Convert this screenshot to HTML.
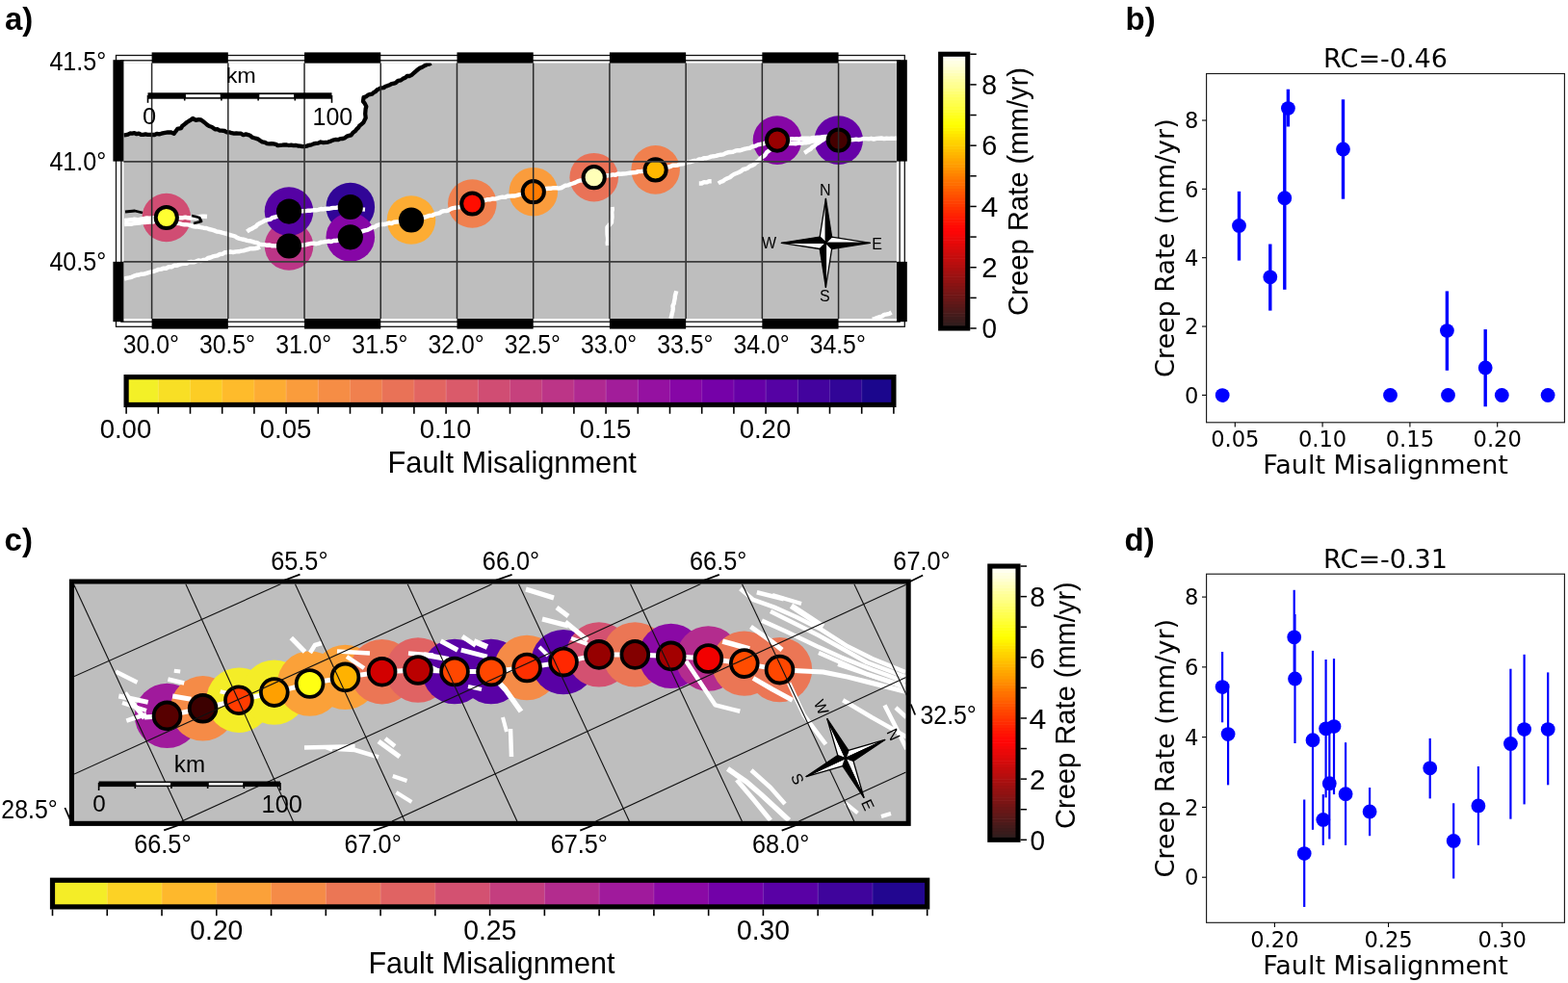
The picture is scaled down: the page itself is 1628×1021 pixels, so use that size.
<!DOCTYPE html>
<html><head><meta charset="utf-8"><title>Fault creep figure</title>
<style>html,body{margin:0;padding:0;background:#fff;} svg{display:block;}</style></head>
<body><svg width="1628" height="1021" viewBox="0 0 1628 1021">
<rect width="1628" height="1021" fill="#fff"/>
<text x="5.00" y="30.80" font-family="'Liberation Sans', Arial, sans-serif" font-size="33" font-weight="bold" text-anchor="start" fill="#000" >a)</text>
<text x="1168.60" y="30.90" font-family="'Liberation Sans', Arial, sans-serif" font-size="33" font-weight="bold" text-anchor="start" fill="#000" >b)</text>
<text x="4.60" y="572.10" font-family="'Liberation Sans', Arial, sans-serif" font-size="33" font-weight="bold" text-anchor="start" fill="#000" >c)</text>
<text x="1167.60" y="572.10" font-family="'Liberation Sans', Arial, sans-serif" font-size="33" font-weight="bold" text-anchor="start" fill="#000" >d)</text>
<clipPath id="ca"><rect x="128.4" y="65.5" width="802.5" height="265.5"/></clipPath>
<clipPath id="cc"><rect x="77" y="606.6" width="863.7" height="246.5"/></clipPath>
<rect x="128.40" y="65.50" width="802.50" height="265.50" fill="#bebebe" />
<polygon points="128.4,65.5 447.6,65.5 445.6,66.6 443.3,67.0 440.8,68.2 438.4,69.7 435.8,70.8 433.5,72.5 431.4,74.3 429.3,76.2 427.4,77.8 425.3,79.0 422.6,79.0 420.8,80.8 418.5,81.6 416.2,83.4 413.2,83.9 411.0,85.9 408.9,86.7 406.5,87.1 404.6,88.3 402.4,89.1 400.2,89.7 398.3,91.2 395.9,91.3 393.8,92.3 391.6,93.2 390.0,95.0 387.9,96.1 386.2,97.7 384.0,98.0 381.9,98.8 380.0,100.4 377.6,101.0 377.0,105.3 378.7,107.4 380.3,110.6 379.6,113.1 379.4,115.6 379.2,118.2 379.7,122.5 378.5,124.8 377.4,127.2 375.4,129.0 373.4,130.4 372.2,132.5 370.4,134.0 369.0,136.0 366.5,137.8 364.7,140.3 362.4,140.9 360.1,141.6 358.2,143.2 356.0,144.0 353.3,144.1 350.9,145.2 348.1,145.0 345.6,145.6 343.1,146.7 340.7,147.6 338.1,147.9 335.6,148.2 332.9,147.5 330.5,148.6 328.0,148.9 325.6,149.4 323.4,150.4 320.9,150.8 318.6,151.6 316.2,152.1 313.9,152.2 311.6,151.7 309.3,151.5 307.0,150.9 304.6,151.1 302.4,150.6 300.0,151.0 297.7,150.5 295.4,150.3 293.1,150.7 290.8,150.9 288.5,151.1 286.4,149.8 284.1,149.4 281.9,149.1 279.6,149.3 277.3,149.1 275.0,147.8 272.3,147.4 270.0,146.0 268.2,144.6 266.1,143.9 263.9,143.3 261.8,142.6 260.1,141.1 257.7,140.1 255.3,139.4 252.6,140.2 250.3,138.7 247.8,138.6 245.3,138.5 242.9,138.6 240.5,138.2 238.1,137.3 235.6,137.4 233.1,136.0 230.2,135.6 227.9,135.6 225.9,134.2 223.6,134.3 221.6,133.1 219.6,131.7 217.2,131.0 215.1,129.6 212.1,127.0 208.7,124.5 206.1,124.2 203.5,124.9 200.1,123.0 197.5,124.9 194.1,127.0 191.5,129.2 189.3,130.7 188.1,133.1 184.2,133.9 182.4,136.4 180.7,138.9 177.7,137.5 174.3,137.4 170.0,138.2 167.6,138.7 165.3,139.4 162.8,138.9 160.5,140.0 158.1,140.0 155.7,139.9 153.4,139.9 151.1,139.4 148.8,139.9 146.5,139.9 144.2,138.6 141.9,139.2 139.6,138.1 137.3,138.6 135.0,138.5 132.9,139.7 130.6,140.1 128.4,140.5 128.4,140.5" fill="#fff"/>
<g clip-path="url(#ca)">
<polyline points="447.6,65.5 445.6,66.6 443.3,67.0 440.8,68.2 438.4,69.7 435.8,70.8 433.5,72.5 431.4,74.3 429.3,76.2 427.4,77.8 425.3,79.0 422.6,79.0 420.8,80.8 418.5,81.6 416.2,83.4 413.2,83.9 411.0,85.9 408.9,86.7 406.5,87.1 404.6,88.3 402.4,89.1 400.2,89.7 398.3,91.2 395.9,91.3 393.8,92.3 391.6,93.2 390.0,95.0 387.9,96.1 386.2,97.7 384.0,98.0 381.9,98.8 380.0,100.4 377.6,101.0 377.0,105.3 378.7,107.4 380.3,110.6 379.6,113.1 379.4,115.6 379.2,118.2 379.7,122.5 378.5,124.8 377.4,127.2 375.4,129.0 373.4,130.4 372.2,132.5 370.4,134.0 369.0,136.0 366.5,137.8 364.7,140.3 362.4,140.9 360.1,141.6 358.2,143.2 356.0,144.0 353.3,144.1 350.9,145.2 348.1,145.0 345.6,145.6 343.1,146.7 340.7,147.6 338.1,147.9 335.6,148.2 332.9,147.5 330.5,148.6 328.0,148.9 325.6,149.4 323.4,150.4 320.9,150.8 318.6,151.6 316.2,152.1 313.9,152.2 311.6,151.7 309.3,151.5 307.0,150.9 304.6,151.1 302.4,150.6 300.0,151.0 297.7,150.5 295.4,150.3 293.1,150.7 290.8,150.9 288.5,151.1 286.4,149.8 284.1,149.4 281.9,149.1 279.6,149.3 277.3,149.1 275.0,147.8 272.3,147.4 270.0,146.0 268.2,144.6 266.1,143.9 263.9,143.3 261.8,142.6 260.1,141.1 257.7,140.1 255.3,139.4 252.6,140.2 250.3,138.7 247.8,138.6 245.3,138.5 242.9,138.6 240.5,138.2 238.1,137.3 235.6,137.4 233.1,136.0 230.2,135.6 227.9,135.6 225.9,134.2 223.6,134.3 221.6,133.1 219.6,131.7 217.2,131.0 215.1,129.6 212.1,127.0 208.7,124.5 206.1,124.2 203.5,124.9 200.1,123.0 197.5,124.9 194.1,127.0 191.5,129.2 189.3,130.7 188.1,133.1 184.2,133.9 182.4,136.4 180.7,138.9 177.7,137.5 174.3,137.4 170.0,138.2 167.6,138.7 165.3,139.4 162.8,138.9 160.5,140.0 158.1,140.0 155.7,139.9 153.4,139.9 151.1,139.4 148.8,139.9 146.5,139.9 144.2,138.6 141.9,139.2 139.6,138.1 137.3,138.6 135.0,138.5 132.9,139.7 130.6,140.1 128.4,140.5" fill="none" stroke="#000" stroke-width="4.3" stroke-linejoin="round" stroke-linecap="butt" />
</g>
<g clip-path="url(#ca)">
<circle cx="172.80" cy="226.00" r="25.30" fill="#d04d73"/>
<circle cx="300.00" cy="255.50" r="25.30" fill="#bc3587"/>
<circle cx="300.00" cy="219.60" r="25.30" fill="#5502a4"/>
<circle cx="363.80" cy="215.00" r="25.30" fill="#310597"/>
<circle cx="363.80" cy="246.30" r="25.30" fill="#8606a6"/>
<circle cx="427.00" cy="228.50" r="25.30" fill="#fdac33"/>
<circle cx="490.30" cy="211.50" r="25.30" fill="#f0804e"/>
<circle cx="553.80" cy="199.20" r="25.30" fill="#fa9c3c"/>
<circle cx="616.70" cy="184.20" r="25.30" fill="#e97257"/>
<circle cx="680.60" cy="176.40" r="25.30" fill="#f0804e"/>
<circle cx="807.00" cy="145.60" r="25.30" fill="#8606a6"/>
<circle cx="870.70" cy="145.60" r="25.30" fill="#6600a7"/>
<polyline points="129.0,229.0 131.6,228.8 134.2,228.4 136.9,228.3 139.5,227.7 142.2,228.1 144.8,227.9 147.4,227.4 150.0,227.0 152.5,226.5 155.0,226.8 157.5,226.5 160.0,226.3 162.5,227.0 165.0,226.9 167.5,225.8 170.0,226.6 172.5,226.2 175.0,226.0 177.5,225.9 180.0,225.8 182.5,226.2 185.0,226.0 187.5,226.2 190.0,226.2 192.5,225.6 195.0,226.3 197.5,226.5 200.0,226.0 202.5,226.3 205.0,225.8 207.5,225.0 210.0,224.8 212.5,224.8 215.0,225.0" fill="none" stroke="#fff" stroke-width="4.4" stroke-linejoin="round" stroke-linecap="butt" />
<polyline points="129.0,233.0 131.6,232.7 134.3,232.6 136.9,232.7 139.5,232.0 142.1,231.8 144.8,231.6 147.3,230.9 150.0,231.0 152.8,230.8 155.5,230.6 158.3,230.6 161.0,229.6 163.7,229.5 166.5,229.1 169.3,229.6 172.0,229.0 174.8,229.8 177.7,229.7 180.3,231.3 183.1,231.9 186.0,232.0 188.8,232.8 191.6,233.3 194.5,233.4 197.3,233.9 200.0,235.0 202.8,235.5 205.8,235.5 208.6,236.2 211.4,236.7 214.3,237.0 217.0,238.0 219.7,238.7 222.4,239.4 225.0,240.5 227.9,240.9 230.5,241.7 233.3,242.3 236.0,243.0 238.5,244.0 241.2,244.7 243.8,245.3 246.1,246.9 248.7,247.8 251.3,248.5 254.0,249.0 256.5,249.9 259.2,250.2 261.8,250.9 264.3,251.6 267.0,252.1 269.4,253.6 272.0,254.0 274.7,254.1 277.3,254.8 280.0,254.5 282.6,255.3 285.3,255.4 288.0,255.2 291.0,254.7 294.0,255.0 297.0,255.9 300.0,255.5 302.6,255.3 305.2,255.6 307.7,254.7 310.2,254.2 312.9,254.6 315.5,254.5 318.0,254.0 320.6,253.4 323.1,252.9 325.7,252.8 328.4,253.2 331.0,252.6 333.4,251.6 336.0,251.4 338.6,250.9 341.2,250.5 343.9,251.0 346.4,250.0 349.0,250.0 351.5,249.4 354.0,248.7 356.4,247.8 359.1,247.8 361.4,246.5 364.0,246.3 366.6,245.3 368.8,243.6 371.5,242.7 373.9,241.3 376.4,240.2 379.0,239.3 381.7,238.8 384.1,237.6 386.4,236.1 389.2,235.8 391.4,234.1 394.0,233.4 396.5,232.9 399.1,233.0 401.5,232.4 403.9,231.5 406.6,232.1 409.0,230.8 411.5,230.5 414.0,230.4 416.6,230.3 419.2,229.5 421.8,229.0 424.3,228.4 427.0,228.5 429.8,227.5 432.8,227.4 435.6,226.4 438.6,226.2 441.5,225.5 443.9,224.6 446.3,223.9 448.9,223.7 451.2,222.5 453.6,221.8 456.2,221.4 458.4,219.9 460.8,219.1 463.4,219.1 465.8,218.3 468.1,216.9 470.5,216.1 473.0,215.7 475.5,215.4 478.0,215.0 480.2,213.6 482.8,213.8 485.2,213.1 487.6,212.2 490.0,211.5 492.8,210.7 495.5,209.6 498.3,208.8 501.3,209.0 504.0,207.8 506.5,207.1 509.1,207.2 511.6,206.4 514.2,206.6 516.7,205.9 519.2,205.2 521.7,204.7 524.3,204.9 526.7,203.8 529.3,203.6 531.9,203.5 534.5,203.5 537.0,202.8 539.4,202.1 542.0,201.9 545.1,201.7 547.9,200.2 550.9,199.4 554.0,199.2 556.5,198.3 559.2,197.9 561.7,196.8 564.3,196.3 567.0,196.0 569.7,195.7 572.3,195.7 575.0,195.1 577.7,195.2 580.4,195.6 583.0,195.0 587.0,192.7 589.7,192.4 592.2,191.3 594.8,190.5 597.3,189.6 599.7,188.4 602.3,187.5 605.0,187.2 607.9,185.9 611.1,186.1 614.1,185.2 617.0,184.2 619.9,184.3 622.5,182.9 625.4,183.2 628.2,182.7 631.0,182.3 633.7,182.2 636.3,181.4 639.0,181.8 641.5,180.5 644.2,180.7 646.9,180.5 649.6,180.4 652.2,179.9 654.8,179.5 657.5,179.3 660.1,179.1 662.7,178.1 665.4,178.1 668.0,177.6 670.6,177.8 673.2,177.5 675.8,176.8 678.4,177.0 681.0,176.4 683.6,176.2 686.0,175.3 688.5,174.8 691.0,173.9 693.5,173.5 696.0,173.0 698.4,171.8 701.0,171.8 703.6,171.6 706.0,170.5 708.6,170.3 711.1,169.6 713.5,168.6 716.1,168.4 718.5,167.7 721.0,166.9 723.6,166.8 725.9,165.4 728.6,165.5 730.9,164.1 733.5,164.2 736.0,163.5 738.4,162.6 741.0,162.3 743.5,161.9 746.0,161.1 748.5,160.7 751.1,160.4 753.4,159.1 755.9,158.3 758.5,158.0 761.0,157.8 763.4,156.7 765.9,156.1 768.6,156.3 771.0,155.4 773.5,154.6 776.0,154.1 778.8,153.7 781.4,152.2 784.2,151.7 786.8,150.4 789.5,149.8 792.4,149.4 795.0,148.2 798.1,148.0 801.1,147.3 804.0,146.1 807.0,145.6 809.5,145.5 812.0,144.9 814.5,144.5 817.0,144.7 819.5,144.8 822.0,144.2 824.6,144.5 827.1,144.3 829.7,144.5 832.3,143.7 834.8,143.6 837.4,143.8 840.0,143.8 842.8,143.3 845.6,142.9 848.5,142.8 851.3,142.7 854.2,142.3 857.0,142.0 859.9,142.5 862.5,143.8 865.3,144.7 868.2,144.8 871.0,145.6 873.5,145.0 876.1,144.9 878.7,145.7 881.2,144.7 883.8,145.3 886.3,145.1 888.9,144.7 891.5,145.1 894.0,144.7 896.6,144.1 899.3,144.1 901.9,144.4 904.6,143.8 907.2,144.6 909.8,143.9 912.5,143.7 915.1,143.5 917.8,144.1 920.4,143.8 923.1,143.9 925.7,143.8 928.4,143.9 931.0,143.5" fill="none" stroke="#fff" stroke-width="4.4" stroke-linejoin="round" stroke-linecap="butt" />
<polyline points="129.0,289.6 131.5,288.9 134.1,288.4 136.7,287.8 139.1,286.6 141.6,285.8 144.2,285.5 146.7,284.7 149.4,284.6 151.9,283.8 154.4,283.1 156.9,282.4 159.5,281.8 162.0,281.0 164.6,279.9 167.3,279.6 169.9,278.6 172.8,278.7 175.2,277.1 178.1,277.3 180.6,275.8 183.4,275.8 186.0,274.9 188.5,274.2 191.0,273.8 193.6,273.8 195.9,272.4 198.4,272.0 201.1,272.4 203.5,271.5 205.9,270.5 208.6,271.0 211.0,270.0 213.6,269.7 215.9,268.0 218.5,267.5 220.9,266.4 223.4,265.8 226.0,265.3 228.4,264.0 231.1,263.8 233.3,262.3 236.0,262.0 239.0,261.5 242.0,262.0 245.0,261.4 248.0,261.3 250.4,260.7 252.9,260.3 255.3,259.6 257.8,259.0 260.1,258.1 262.7,258.3 265.2,258.0 267.7,257.5 270.0,256.4" fill="none" stroke="#fff" stroke-width="4.4" stroke-linejoin="round" stroke-linecap="butt" />
<polyline points="256.4,240.5 258.5,238.9 261.1,237.8 263.4,236.4 265.7,235.2 267.6,233.1 270.0,231.8 272.4,230.6 274.9,229.2 277.6,228.3 280.5,227.8 282.9,226.2 285.7,225.5 288.4,224.5 290.6,223.2 293.0,222.3 295.3,221.5 297.8,220.9 300.0,219.6 302.5,219.6 305.0,218.8 307.5,219.0 310.0,218.7 312.5,219.4 315.0,219.2 317.5,219.1 320.0,218.6 322.7,218.7 325.3,218.3 328.0,218.3 330.6,217.9 333.2,217.0 335.9,217.4 338.5,216.7 341.1,216.8 343.7,216.3 346.4,215.9 349.0,215.7 351.5,215.4 354.0,215.4 356.5,215.1 359.0,214.8 361.5,215.5 364.0,215.0 366.4,215.8 368.9,216.4 371.5,216.5 374.0,216.8 376.5,217.4 379.0,217.6" fill="none" stroke="#fff" stroke-width="4.4" stroke-linejoin="round" stroke-linecap="butt" />
<polyline points="806.0,150.0 804.3,152.1 801.9,153.4 800.0,155.3 798.0,156.9 796.0,158.3 794.6,160.6 792.8,162.3 790.6,163.6 788.8,165.3 787.2,167.3 785.1,168.7 783.4,170.5 781.1,171.8 778.6,172.6 776.5,174.4 774.1,175.5 771.5,176.0 769.4,177.8 767.1,179.0 764.6,180.0 762.1,181.0 759.8,182.5 757.7,184.3 755.2,185.2 752.8,186.4 750.7,188.2 748.1,189.0 745.8,190.5" fill="none" stroke="#fff" stroke-width="4.4" stroke-linejoin="round" stroke-linecap="butt" />
<polyline points="725.8,190.5 728.5,190.5 730.9,189.1 733.6,189.4 736.1,188.3 738.7,188.2" fill="none" stroke="#fff" stroke-width="4.4" stroke-linejoin="round" stroke-linecap="butt" />
<polyline points="860.0,141.1 858.0,142.7 855.9,144.1 853.8,145.6 851.7,147.0 849.7,148.6 847.4,149.8 845.6,151.6 843.3,152.8 841.6,154.8 839.4,156.0 837.3,157.5 835.1,158.8" fill="none" stroke="#fff" stroke-width="4.4" stroke-linejoin="round" stroke-linecap="butt" />
<polyline points="818.0,149.0 820.8,148.9 823.7,149.1 826.5,149.2 829.3,148.3 832.2,148.7 835.0,148.3 837.6,148.2 840.2,147.8 842.7,146.8 845.3,146.3 848.0,146.5 850.4,145.7 852.9,145.4 855.1,144.1 857.6,143.7 860.0,143.0" fill="none" stroke="#fff" stroke-width="4.4" stroke-linejoin="round" stroke-linecap="butt" />
<polyline points="635.5,215.0 635.8,217.7 635.2,220.3 635.4,223.0 635.5,225.7 635.1,228.3 635.0,231.0 632.8,233.5 630.5,236.0 630.5,238.5 630.5,241.0 630.6,243.8 631.0,246.6 631.1,249.4 630.7,252.2 631.0,255.0" fill="none" stroke="#fff" stroke-width="4.4" stroke-linejoin="round" stroke-linecap="butt" />
<polyline points="702.3,302.2 701.6,304.8 700.9,307.4 700.7,310.1 700.1,312.7 699.7,315.3 698.5,317.8 698.8,320.6 698.4,323.2 697.7,325.8 697.2,328.4 696.4,331.0" fill="none" stroke="#fff" stroke-width="4.4" stroke-linejoin="round" stroke-linecap="butt" />
<polyline points="905.7,331.6 908.3,331.1 910.7,330.0 913.3,329.2 915.8,328.5 918.0,326.9 920.7,326.4 923.3,325.8 925.6,324.5" fill="none" stroke="#fff" stroke-width="4.4" stroke-linejoin="round" stroke-linecap="butt" />
<polyline points="130.0,220.0 140.0,219.0 148.0,221.0" fill="none" stroke="#000" stroke-width="2.8" stroke-linejoin="round" stroke-linecap="butt" />
<polyline points="199.0,224.0 207.0,226.0 209.0,230.0 201.0,232.0" fill="none" stroke="#000" stroke-width="2.8" stroke-linejoin="round" stroke-linecap="butt" />
<circle cx="172.80" cy="226.00" r="11.10" fill="#ffff32" stroke="#000" stroke-width="4"/>
<circle cx="300.00" cy="255.50" r="13.10" fill="#000"/>
<circle cx="300.00" cy="219.60" r="13.10" fill="#000"/>
<circle cx="363.80" cy="215.00" r="13.10" fill="#000"/>
<circle cx="363.80" cy="246.30" r="13.10" fill="#000"/>
<circle cx="427.00" cy="228.50" r="13.10" fill="#000"/>
<circle cx="490.30" cy="211.50" r="11.10" fill="#ff0d00" stroke="#000" stroke-width="4"/>
<circle cx="553.80" cy="199.20" r="11.10" fill="#ff7b00" stroke="#000" stroke-width="4"/>
<circle cx="616.70" cy="184.20" r="11.10" fill="#ffffb8" stroke="#000" stroke-width="4"/>
<circle cx="680.60" cy="176.40" r="11.10" fill="#ffb700" stroke="#000" stroke-width="4"/>
<circle cx="807.00" cy="145.60" r="11.10" fill="#980000" stroke="#000" stroke-width="4"/>
<circle cx="870.70" cy="145.60" r="11.10" fill="#440000" stroke="#000" stroke-width="4"/>
</g>
<line x1="157.60" y1="65.50" x2="157.60" y2="331.00" stroke="#2a2a2a" stroke-width="1.5" />
<line x1="236.82" y1="65.50" x2="236.82" y2="331.00" stroke="#2a2a2a" stroke-width="1.5" />
<line x1="316.04" y1="65.50" x2="316.04" y2="331.00" stroke="#2a2a2a" stroke-width="1.5" />
<line x1="395.26" y1="65.50" x2="395.26" y2="331.00" stroke="#2a2a2a" stroke-width="1.5" />
<line x1="474.48" y1="65.50" x2="474.48" y2="331.00" stroke="#2a2a2a" stroke-width="1.5" />
<line x1="553.70" y1="65.50" x2="553.70" y2="331.00" stroke="#2a2a2a" stroke-width="1.5" />
<line x1="632.92" y1="65.50" x2="632.92" y2="331.00" stroke="#2a2a2a" stroke-width="1.5" />
<line x1="712.14" y1="65.50" x2="712.14" y2="331.00" stroke="#2a2a2a" stroke-width="1.5" />
<line x1="791.36" y1="65.50" x2="791.36" y2="331.00" stroke="#2a2a2a" stroke-width="1.5" />
<line x1="870.58" y1="65.50" x2="870.58" y2="331.00" stroke="#2a2a2a" stroke-width="1.5" />
<line x1="128.40" y1="167.80" x2="930.90" y2="167.80" stroke="#3c3c3c" stroke-width="1.7" />
<line x1="128.40" y1="271.90" x2="930.90" y2="271.90" stroke="#3c3c3c" stroke-width="1.7" />
<rect x="120.50" y="57.50" width="818.80" height="281.80" fill="none" stroke="#111" stroke-width="1.3" />
<rect x="125.90" y="62.80" width="808.20" height="271.40" fill="none" stroke="#111" stroke-width="1.3" />
<rect x="157.60" y="54.40" width="79.22" height="11.20" fill="#000" />
<rect x="157.60" y="331.00" width="79.22" height="10.60" fill="#000" />
<rect x="316.04" y="54.40" width="79.22" height="11.20" fill="#000" />
<rect x="316.04" y="331.00" width="79.22" height="10.60" fill="#000" />
<rect x="474.48" y="54.40" width="79.22" height="11.20" fill="#000" />
<rect x="474.48" y="331.00" width="79.22" height="10.60" fill="#000" />
<rect x="632.92" y="54.40" width="79.22" height="11.20" fill="#000" />
<rect x="632.92" y="331.00" width="79.22" height="10.60" fill="#000" />
<rect x="791.36" y="54.40" width="79.22" height="11.20" fill="#000" />
<rect x="791.36" y="331.00" width="79.22" height="10.60" fill="#000" />
<rect x="117.40" y="62.20" width="11.00" height="105.40" fill="#000" />
<rect x="931.00" y="62.20" width="10.80" height="105.40" fill="#000" />
<rect x="117.40" y="271.80" width="11.00" height="62.40" fill="#000" />
<rect x="931.00" y="271.80" width="10.80" height="62.40" fill="#000" />
<rect x="153.50" y="96.30" width="191.00" height="6.40" fill="#000" />
<rect x="192.90" y="98.10" width="35.80" height="3.00" fill="#fff" />
<rect x="269.30" y="98.10" width="35.80" height="3.00" fill="#fff" />
<line x1="153.50" y1="99.00" x2="153.50" y2="106.80" stroke="#000" stroke-width="1.6" />
<line x1="191.70" y1="99.00" x2="191.70" y2="104.50" stroke="#000" stroke-width="1.6" />
<line x1="229.90" y1="99.00" x2="229.90" y2="104.50" stroke="#000" stroke-width="1.6" />
<line x1="268.10" y1="99.00" x2="268.10" y2="104.50" stroke="#000" stroke-width="1.6" />
<line x1="306.30" y1="99.00" x2="306.30" y2="104.50" stroke="#000" stroke-width="1.6" />
<line x1="344.50" y1="99.00" x2="344.50" y2="106.80" stroke="#000" stroke-width="1.6" />
<text x="234.68" y="86.40" font-family="'Liberation Sans', Arial, sans-serif" font-size="22.2" font-weight="normal" textLength="31.20" lengthAdjust="spacingAndGlyphs" >km</text>
<text x="147.98" y="129.40" font-family="'Liberation Sans', Arial, sans-serif" font-size="24.8" font-weight="normal" textLength="14.14" lengthAdjust="spacingAndGlyphs" >0</text>
<text x="324.53" y="129.50" font-family="'Liberation Sans', Arial, sans-serif" font-size="25.2" font-weight="normal" textLength="41.63" lengthAdjust="spacingAndGlyphs" >100</text>
<g transform="translate(857.40,252.30) rotate(0.00)"><g transform="rotate(0)"><polygon points="0,-46.00 -6.21,-6.21 0,0" fill="#fff" stroke="#000" stroke-width="1.3" stroke-linejoin="round"/><polygon points="0,-46.00 6.21,-6.21 0,0" fill="#000" stroke="#000" stroke-width="1.3" stroke-linejoin="round"/></g><g transform="rotate(90)"><polygon points="0,-46.00 -6.21,-6.21 0,0" fill="#fff" stroke="#000" stroke-width="1.3" stroke-linejoin="round"/><polygon points="0,-46.00 6.21,-6.21 0,0" fill="#000" stroke="#000" stroke-width="1.3" stroke-linejoin="round"/></g><g transform="rotate(180)"><polygon points="0,-46.00 -6.21,-6.21 0,0" fill="#fff" stroke="#000" stroke-width="1.3" stroke-linejoin="round"/><polygon points="0,-46.00 6.21,-6.21 0,0" fill="#000" stroke="#000" stroke-width="1.3" stroke-linejoin="round"/></g><g transform="rotate(270)"><polygon points="0,-46.00 -6.21,-6.21 0,0" fill="#fff" stroke="#000" stroke-width="1.3" stroke-linejoin="round"/><polygon points="0,-46.00 6.21,-6.21 0,0" fill="#000" stroke="#000" stroke-width="1.3" stroke-linejoin="round"/></g></g>
<text x="0" y="0" font-family="'Liberation Sans', Arial, sans-serif" font-size="16" text-anchor="middle" dominant-baseline="central" transform="translate(856.90,197.60) rotate(0.00)">N</text>
<text x="0" y="0" font-family="'Liberation Sans', Arial, sans-serif" font-size="16" text-anchor="middle" dominant-baseline="central" transform="translate(856.40,307.80) rotate(0.00)">S</text>
<text x="0" y="0" font-family="'Liberation Sans', Arial, sans-serif" font-size="16" text-anchor="middle" dominant-baseline="central" transform="translate(798.60,252.20) rotate(0.00)">W</text>
<text x="0" y="0" font-family="'Liberation Sans', Arial, sans-serif" font-size="16" text-anchor="middle" dominant-baseline="central" transform="translate(910.60,253.00) rotate(0.00)">E</text>
<text x="51.40" y="73.00" font-family="'Liberation Sans', Arial, sans-serif" font-size="27.2" font-weight="normal" textLength="58.94" lengthAdjust="spacingAndGlyphs" >41.5°</text>
<text x="51.40" y="177.10" font-family="'Liberation Sans', Arial, sans-serif" font-size="27.2" font-weight="normal" textLength="58.94" lengthAdjust="spacingAndGlyphs" >41.0°</text>
<text x="51.40" y="281.30" font-family="'Liberation Sans', Arial, sans-serif" font-size="27.2" font-weight="normal" textLength="58.94" lengthAdjust="spacingAndGlyphs" >40.5°</text>
<text x="127.71" y="366.80" font-family="'Liberation Sans', Arial, sans-serif" font-size="27.2" font-weight="normal" textLength="58.11" lengthAdjust="spacingAndGlyphs" >30.0°</text>
<text x="206.93" y="366.80" font-family="'Liberation Sans', Arial, sans-serif" font-size="27.2" font-weight="normal" textLength="58.11" lengthAdjust="spacingAndGlyphs" >30.5°</text>
<text x="286.15" y="366.80" font-family="'Liberation Sans', Arial, sans-serif" font-size="27.2" font-weight="normal" textLength="58.11" lengthAdjust="spacingAndGlyphs" >31.0°</text>
<text x="365.37" y="366.80" font-family="'Liberation Sans', Arial, sans-serif" font-size="27.2" font-weight="normal" textLength="58.11" lengthAdjust="spacingAndGlyphs" >31.5°</text>
<text x="444.59" y="366.80" font-family="'Liberation Sans', Arial, sans-serif" font-size="27.2" font-weight="normal" textLength="58.11" lengthAdjust="spacingAndGlyphs" >32.0°</text>
<text x="523.81" y="366.80" font-family="'Liberation Sans', Arial, sans-serif" font-size="27.2" font-weight="normal" textLength="58.11" lengthAdjust="spacingAndGlyphs" >32.5°</text>
<text x="603.03" y="366.80" font-family="'Liberation Sans', Arial, sans-serif" font-size="27.2" font-weight="normal" textLength="58.11" lengthAdjust="spacingAndGlyphs" >33.0°</text>
<text x="682.25" y="366.80" font-family="'Liberation Sans', Arial, sans-serif" font-size="27.2" font-weight="normal" textLength="58.11" lengthAdjust="spacingAndGlyphs" >33.5°</text>
<text x="761.47" y="366.80" font-family="'Liberation Sans', Arial, sans-serif" font-size="27.2" font-weight="normal" textLength="58.11" lengthAdjust="spacingAndGlyphs" >34.0°</text>
<text x="840.69" y="366.80" font-family="'Liberation Sans', Arial, sans-serif" font-size="27.2" font-weight="normal" textLength="58.11" lengthAdjust="spacingAndGlyphs" >34.5°</text>
<rect x="976.65" y="337.84" width="28.10" height="3.76" fill="#2b1e1e" />
<rect x="976.65" y="334.67" width="28.10" height="3.76" fill="#321d1d" />
<rect x="976.65" y="331.51" width="28.10" height="3.76" fill="#391c1c" />
<rect x="976.65" y="328.34" width="28.10" height="3.76" fill="#3e1b1b" />
<rect x="976.65" y="325.18" width="28.10" height="3.76" fill="#451b1b" />
<rect x="976.65" y="322.02" width="28.10" height="3.76" fill="#4c1a1a" />
<rect x="976.65" y="318.85" width="28.10" height="3.76" fill="#531919" />
<rect x="976.65" y="315.69" width="28.10" height="3.76" fill="#5a1818" />
<rect x="976.65" y="312.52" width="28.10" height="3.76" fill="#611818" />
<rect x="976.65" y="309.36" width="28.10" height="3.76" fill="#681717" />
<rect x="976.65" y="306.20" width="28.10" height="3.76" fill="#6d1616" />
<rect x="976.65" y="303.03" width="28.10" height="3.76" fill="#741515" />
<rect x="976.65" y="299.87" width="28.10" height="3.76" fill="#7b1515" />
<rect x="976.65" y="296.71" width="28.10" height="3.76" fill="#821414" />
<rect x="976.65" y="293.54" width="28.10" height="3.76" fill="#891313" />
<rect x="976.65" y="290.38" width="28.10" height="3.76" fill="#911212" />
<rect x="976.65" y="287.21" width="28.10" height="3.76" fill="#951212" />
<rect x="976.65" y="284.05" width="28.10" height="3.76" fill="#9c1111" />
<rect x="976.65" y="280.89" width="28.10" height="3.76" fill="#a31010" />
<rect x="976.65" y="277.72" width="28.10" height="3.76" fill="#aa0f0f" />
<rect x="976.65" y="274.56" width="28.10" height="3.76" fill="#b20f0f" />
<rect x="976.65" y="271.39" width="28.10" height="3.76" fill="#b90e0e" />
<rect x="976.65" y="268.23" width="28.10" height="3.76" fill="#c00d0d" />
<rect x="976.65" y="265.07" width="28.10" height="3.76" fill="#c40c0c" />
<rect x="976.65" y="261.90" width="28.10" height="3.76" fill="#cb0c0c" />
<rect x="976.65" y="258.74" width="28.10" height="3.76" fill="#d30b0b" />
<rect x="976.65" y="255.57" width="28.10" height="3.76" fill="#da0a0a" />
<rect x="976.65" y="252.41" width="28.10" height="3.76" fill="#e10909" />
<rect x="976.65" y="249.25" width="28.10" height="3.76" fill="#e80909" />
<rect x="976.65" y="246.08" width="28.10" height="3.76" fill="#ec0808" />
<rect x="976.65" y="242.92" width="28.10" height="3.76" fill="#f40707" />
<rect x="976.65" y="239.76" width="28.10" height="3.76" fill="#fb0606" />
<rect x="976.65" y="236.59" width="28.10" height="3.76" fill="#ff0606" />
<rect x="976.65" y="233.43" width="28.10" height="3.76" fill="#ff0a05" />
<rect x="976.65" y="230.26" width="28.10" height="3.76" fill="#ff1104" />
<rect x="976.65" y="227.10" width="28.10" height="3.76" fill="#ff1603" />
<rect x="976.65" y="223.94" width="28.10" height="3.76" fill="#ff1d03" />
<rect x="976.65" y="220.77" width="28.10" height="3.76" fill="#ff2402" />
<rect x="976.65" y="217.61" width="28.10" height="3.76" fill="#ff2b01" />
<rect x="976.65" y="214.44" width="28.10" height="3.76" fill="#ff3200" />
<rect x="976.65" y="211.28" width="28.10" height="3.76" fill="#ff3a00" />
<rect x="976.65" y="208.12" width="28.10" height="3.76" fill="#ff4100" />
<rect x="976.65" y="204.95" width="28.10" height="3.76" fill="#ff4700" />
<rect x="976.65" y="201.79" width="28.10" height="3.76" fill="#ff4f00" />
<rect x="976.65" y="198.62" width="28.10" height="3.76" fill="#ff5600" />
<rect x="976.65" y="195.46" width="28.10" height="3.76" fill="#ff5e00" />
<rect x="976.65" y="192.30" width="28.10" height="3.76" fill="#ff6600" />
<rect x="976.65" y="189.13" width="28.10" height="3.76" fill="#ff6e00" />
<rect x="976.65" y="185.97" width="28.10" height="3.76" fill="#ff7300" />
<rect x="976.65" y="182.81" width="28.10" height="3.76" fill="#ff7b00" />
<rect x="976.65" y="179.64" width="28.10" height="3.76" fill="#ff8300" />
<rect x="976.65" y="176.48" width="28.10" height="3.76" fill="#ff8b00" />
<rect x="976.65" y="173.31" width="28.10" height="3.76" fill="#ff9300" />
<rect x="976.65" y="170.15" width="28.10" height="3.76" fill="#ff9b00" />
<rect x="976.65" y="166.99" width="28.10" height="3.76" fill="#ffa200" />
<rect x="976.65" y="163.82" width="28.10" height="3.76" fill="#ffa800" />
<rect x="976.65" y="160.66" width="28.10" height="3.76" fill="#ffb000" />
<rect x="976.65" y="157.49" width="28.10" height="3.76" fill="#ffb700" />
<rect x="976.65" y="154.33" width="28.10" height="3.76" fill="#ffbf00" />
<rect x="976.65" y="151.17" width="28.10" height="3.76" fill="#ffc700" />
<rect x="976.65" y="148.00" width="28.10" height="3.76" fill="#ffcf00" />
<rect x="976.65" y="144.84" width="28.10" height="3.76" fill="#ffd400" />
<rect x="976.65" y="141.68" width="28.10" height="3.76" fill="#ffdc00" />
<rect x="976.65" y="138.51" width="28.10" height="3.76" fill="#ffe400" />
<rect x="976.65" y="135.35" width="28.10" height="3.76" fill="#ffec00" />
<rect x="976.65" y="132.18" width="28.10" height="3.76" fill="#fff400" />
<rect x="976.65" y="129.02" width="28.10" height="3.76" fill="#fffc00" />
<rect x="976.65" y="125.86" width="28.10" height="3.76" fill="#ffff07" />
<rect x="976.65" y="122.69" width="28.10" height="3.76" fill="#ffff0f" />
<rect x="976.65" y="119.53" width="28.10" height="3.76" fill="#ffff1b" />
<rect x="976.65" y="116.36" width="28.10" height="3.76" fill="#ffff26" />
<rect x="976.65" y="113.20" width="28.10" height="3.76" fill="#ffff32" />
<rect x="976.65" y="110.04" width="28.10" height="3.76" fill="#ffff3e" />
<rect x="976.65" y="106.87" width="28.10" height="3.76" fill="#ffff4a" />
<rect x="976.65" y="103.71" width="28.10" height="3.76" fill="#ffff52" />
<rect x="976.65" y="100.54" width="28.10" height="3.76" fill="#ffff5e" />
<rect x="976.65" y="97.38" width="28.10" height="3.76" fill="#ffff69" />
<rect x="976.65" y="94.22" width="28.10" height="3.76" fill="#ffff75" />
<rect x="976.65" y="91.05" width="28.10" height="3.76" fill="#ffff81" />
<rect x="976.65" y="87.89" width="28.10" height="3.76" fill="#ffff8d" />
<rect x="976.65" y="84.73" width="28.10" height="3.76" fill="#ffff95" />
<rect x="976.65" y="81.56" width="28.10" height="3.76" fill="#ffffa0" />
<rect x="976.65" y="78.40" width="28.10" height="3.76" fill="#ffffac" />
<rect x="976.65" y="75.23" width="28.10" height="3.76" fill="#ffffb8" />
<rect x="976.65" y="72.07" width="28.10" height="3.76" fill="#ffffc4" />
<rect x="976.65" y="68.91" width="28.10" height="3.76" fill="#ffffd0" />
<rect x="976.65" y="65.74" width="28.10" height="3.76" fill="#ffffdc" />
<rect x="976.65" y="62.58" width="28.10" height="3.76" fill="#ffffe3" />
<rect x="976.65" y="59.41" width="28.10" height="3.76" fill="#ffffef" />
<rect x="976.65" y="56.25" width="28.10" height="3.76" fill="#fffffb" />
<rect x="976.65" y="56.25" width="28.10" height="284.75" fill="none" stroke="#000" stroke-width="5.1" />
<line x1="1007.25" y1="341.00" x2="1013.75" y2="341.00" stroke="#000" stroke-width="1.5" />
<text x="1019.48" y="351.10" font-family="'Liberation Sans', Arial, sans-serif" font-size="29" font-weight="normal" textLength="15.53" lengthAdjust="spacingAndGlyphs" >0</text>
<line x1="1007.25" y1="309.36" x2="1013.75" y2="309.36" stroke="#000" stroke-width="1.5" />
<line x1="1007.25" y1="277.72" x2="1013.75" y2="277.72" stroke="#000" stroke-width="1.5" />
<text x="1019.13" y="287.82" font-family="'Liberation Sans', Arial, sans-serif" font-size="29" font-weight="normal" textLength="16.38" lengthAdjust="spacingAndGlyphs" >2</text>
<line x1="1007.25" y1="246.08" x2="1013.75" y2="246.08" stroke="#000" stroke-width="1.5" />
<line x1="1007.25" y1="214.44" x2="1013.75" y2="214.44" stroke="#000" stroke-width="1.5" />
<text x="1018.56" y="224.54" font-family="'Liberation Sans', Arial, sans-serif" font-size="29" font-weight="normal" textLength="17.84" lengthAdjust="spacingAndGlyphs" >4</text>
<line x1="1007.25" y1="182.81" x2="1013.75" y2="182.81" stroke="#000" stroke-width="1.5" />
<line x1="1007.25" y1="151.17" x2="1013.75" y2="151.17" stroke="#000" stroke-width="1.5" />
<text x="1019.16" y="161.27" font-family="'Liberation Sans', Arial, sans-serif" font-size="29" font-weight="normal" textLength="16.03" lengthAdjust="spacingAndGlyphs" >6</text>
<line x1="1007.25" y1="119.53" x2="1013.75" y2="119.53" stroke="#000" stroke-width="1.5" />
<line x1="1007.25" y1="87.89" x2="1013.75" y2="87.89" stroke="#000" stroke-width="1.5" />
<text x="1019.32" y="97.99" font-family="'Liberation Sans', Arial, sans-serif" font-size="29" font-weight="normal" textLength="15.86" lengthAdjust="spacingAndGlyphs" >8</text>
<line x1="1007.25" y1="56.25" x2="1013.75" y2="56.25" stroke="#000" stroke-width="1.5" />
<text x="0" y="0" font-family="'Liberation Sans', Arial, sans-serif" font-size="30" text-anchor="middle" transform="translate(1066.50,198.90) rotate(-90)" textLength="258" lengthAdjust="spacingAndGlyphs">Creep Rate (mm/yr)</text>
<rect x="131.10" y="391.65" width="33.70" height="28.80" fill="#f3f027" />
<rect x="164.30" y="391.65" width="33.70" height="28.80" fill="#f8df25" />
<rect x="197.50" y="391.65" width="33.70" height="28.80" fill="#fccd25" />
<rect x="230.70" y="391.65" width="33.70" height="28.80" fill="#febb2b" />
<rect x="263.90" y="391.65" width="33.70" height="28.80" fill="#fdac33" />
<rect x="297.10" y="391.65" width="33.70" height="28.80" fill="#fa9c3c" />
<rect x="330.30" y="391.65" width="33.70" height="28.80" fill="#f68d45" />
<rect x="363.50" y="391.65" width="33.70" height="28.80" fill="#f0804e" />
<rect x="396.70" y="391.65" width="33.70" height="28.80" fill="#e97257" />
<rect x="429.90" y="391.65" width="33.70" height="28.80" fill="#e26561" />
<rect x="463.10" y="391.65" width="33.70" height="28.80" fill="#da5a6a" />
<rect x="496.30" y="391.65" width="33.70" height="28.80" fill="#d04d73" />
<rect x="529.50" y="391.65" width="33.70" height="28.80" fill="#c6417d" />
<rect x="562.70" y="391.65" width="33.70" height="28.80" fill="#bc3587" />
<rect x="595.90" y="391.65" width="33.70" height="28.80" fill="#b02991" />
<rect x="629.10" y="391.65" width="33.70" height="28.80" fill="#a21d9a" />
<rect x="662.30" y="391.65" width="33.70" height="28.80" fill="#9511a1" />
<rect x="695.50" y="391.65" width="33.70" height="28.80" fill="#8606a6" />
<rect x="728.70" y="391.65" width="33.70" height="28.80" fill="#7501a8" />
<rect x="761.90" y="391.65" width="33.70" height="28.80" fill="#6600a7" />
<rect x="795.10" y="391.65" width="33.70" height="28.80" fill="#5502a4" />
<rect x="828.30" y="391.65" width="33.70" height="28.80" fill="#43039e" />
<rect x="861.50" y="391.65" width="33.70" height="28.80" fill="#310597" />
<rect x="894.70" y="391.65" width="33.70" height="28.80" fill="#1b068d" />
<line x1="164.30" y1="391.65" x2="164.30" y2="420.45" stroke="#fff" stroke-width="0.7" stroke-opacity="0.22"/>
<line x1="197.50" y1="391.65" x2="197.50" y2="420.45" stroke="#fff" stroke-width="0.7" stroke-opacity="0.22"/>
<line x1="230.70" y1="391.65" x2="230.70" y2="420.45" stroke="#fff" stroke-width="0.7" stroke-opacity="0.22"/>
<line x1="263.90" y1="391.65" x2="263.90" y2="420.45" stroke="#fff" stroke-width="0.7" stroke-opacity="0.22"/>
<line x1="297.10" y1="391.65" x2="297.10" y2="420.45" stroke="#fff" stroke-width="0.7" stroke-opacity="0.22"/>
<line x1="330.30" y1="391.65" x2="330.30" y2="420.45" stroke="#fff" stroke-width="0.7" stroke-opacity="0.22"/>
<line x1="363.50" y1="391.65" x2="363.50" y2="420.45" stroke="#fff" stroke-width="0.7" stroke-opacity="0.22"/>
<line x1="396.70" y1="391.65" x2="396.70" y2="420.45" stroke="#fff" stroke-width="0.7" stroke-opacity="0.22"/>
<line x1="429.90" y1="391.65" x2="429.90" y2="420.45" stroke="#fff" stroke-width="0.7" stroke-opacity="0.22"/>
<line x1="463.10" y1="391.65" x2="463.10" y2="420.45" stroke="#fff" stroke-width="0.7" stroke-opacity="0.22"/>
<line x1="496.30" y1="391.65" x2="496.30" y2="420.45" stroke="#fff" stroke-width="0.7" stroke-opacity="0.22"/>
<line x1="529.50" y1="391.65" x2="529.50" y2="420.45" stroke="#fff" stroke-width="0.7" stroke-opacity="0.22"/>
<line x1="562.70" y1="391.65" x2="562.70" y2="420.45" stroke="#fff" stroke-width="0.7" stroke-opacity="0.22"/>
<line x1="595.90" y1="391.65" x2="595.90" y2="420.45" stroke="#fff" stroke-width="0.7" stroke-opacity="0.22"/>
<line x1="629.10" y1="391.65" x2="629.10" y2="420.45" stroke="#fff" stroke-width="0.7" stroke-opacity="0.22"/>
<line x1="662.30" y1="391.65" x2="662.30" y2="420.45" stroke="#fff" stroke-width="0.7" stroke-opacity="0.22"/>
<line x1="695.50" y1="391.65" x2="695.50" y2="420.45" stroke="#fff" stroke-width="0.7" stroke-opacity="0.22"/>
<line x1="728.70" y1="391.65" x2="728.70" y2="420.45" stroke="#fff" stroke-width="0.7" stroke-opacity="0.22"/>
<line x1="761.90" y1="391.65" x2="761.90" y2="420.45" stroke="#fff" stroke-width="0.7" stroke-opacity="0.22"/>
<line x1="795.10" y1="391.65" x2="795.10" y2="420.45" stroke="#fff" stroke-width="0.7" stroke-opacity="0.22"/>
<line x1="828.30" y1="391.65" x2="828.30" y2="420.45" stroke="#fff" stroke-width="0.7" stroke-opacity="0.22"/>
<line x1="861.50" y1="391.65" x2="861.50" y2="420.45" stroke="#fff" stroke-width="0.7" stroke-opacity="0.22"/>
<line x1="894.70" y1="391.65" x2="894.70" y2="420.45" stroke="#fff" stroke-width="0.7" stroke-opacity="0.22"/>
<rect x="131.10" y="391.65" width="796.80" height="28.80" fill="none" stroke="#000" stroke-width="5.2" />
<line x1="131.10" y1="422.95" x2="131.10" y2="429.75" stroke="#000" stroke-width="1.6" />
<line x1="164.30" y1="422.95" x2="164.30" y2="429.75" stroke="#000" stroke-width="1.6" />
<line x1="197.50" y1="422.95" x2="197.50" y2="429.75" stroke="#000" stroke-width="1.6" />
<line x1="230.70" y1="422.95" x2="230.70" y2="429.75" stroke="#000" stroke-width="1.6" />
<line x1="263.90" y1="422.95" x2="263.90" y2="429.75" stroke="#000" stroke-width="1.6" />
<line x1="297.10" y1="422.95" x2="297.10" y2="429.75" stroke="#000" stroke-width="1.6" />
<line x1="330.30" y1="422.95" x2="330.30" y2="429.75" stroke="#000" stroke-width="1.6" />
<line x1="363.50" y1="422.95" x2="363.50" y2="429.75" stroke="#000" stroke-width="1.6" />
<line x1="396.70" y1="422.95" x2="396.70" y2="429.75" stroke="#000" stroke-width="1.6" />
<line x1="429.90" y1="422.95" x2="429.90" y2="429.75" stroke="#000" stroke-width="1.6" />
<line x1="463.10" y1="422.95" x2="463.10" y2="429.75" stroke="#000" stroke-width="1.6" />
<line x1="496.30" y1="422.95" x2="496.30" y2="429.75" stroke="#000" stroke-width="1.6" />
<line x1="529.50" y1="422.95" x2="529.50" y2="429.75" stroke="#000" stroke-width="1.6" />
<line x1="562.70" y1="422.95" x2="562.70" y2="429.75" stroke="#000" stroke-width="1.6" />
<line x1="595.90" y1="422.95" x2="595.90" y2="429.75" stroke="#000" stroke-width="1.6" />
<line x1="629.10" y1="422.95" x2="629.10" y2="429.75" stroke="#000" stroke-width="1.6" />
<line x1="662.30" y1="422.95" x2="662.30" y2="429.75" stroke="#000" stroke-width="1.6" />
<line x1="695.50" y1="422.95" x2="695.50" y2="429.75" stroke="#000" stroke-width="1.6" />
<line x1="728.70" y1="422.95" x2="728.70" y2="429.75" stroke="#000" stroke-width="1.6" />
<line x1="761.90" y1="422.95" x2="761.90" y2="429.75" stroke="#000" stroke-width="1.6" />
<line x1="795.10" y1="422.95" x2="795.10" y2="429.75" stroke="#000" stroke-width="1.6" />
<line x1="828.30" y1="422.95" x2="828.30" y2="429.75" stroke="#000" stroke-width="1.6" />
<line x1="861.50" y1="422.95" x2="861.50" y2="429.75" stroke="#000" stroke-width="1.6" />
<line x1="894.70" y1="422.95" x2="894.70" y2="429.75" stroke="#000" stroke-width="1.6" />
<line x1="927.90" y1="422.95" x2="927.90" y2="429.75" stroke="#000" stroke-width="1.6" />
<text x="103.65" y="455.00" font-family="'Liberation Sans', Arial, sans-serif" font-size="27.2" font-weight="normal" textLength="53.60" lengthAdjust="spacingAndGlyphs" >0.00</text>
<text x="269.65" y="455.00" font-family="'Liberation Sans', Arial, sans-serif" font-size="27.2" font-weight="normal" textLength="53.75" lengthAdjust="spacingAndGlyphs" >0.05</text>
<text x="435.65" y="455.00" font-family="'Liberation Sans', Arial, sans-serif" font-size="27.2" font-weight="normal" textLength="53.60" lengthAdjust="spacingAndGlyphs" >0.10</text>
<text x="601.65" y="455.00" font-family="'Liberation Sans', Arial, sans-serif" font-size="27.2" font-weight="normal" textLength="53.75" lengthAdjust="spacingAndGlyphs" >0.15</text>
<text x="767.65" y="455.00" font-family="'Liberation Sans', Arial, sans-serif" font-size="27.2" font-weight="normal" textLength="53.60" lengthAdjust="spacingAndGlyphs" >0.20</text>
<text x="402.54" y="490.90" font-family="'Liberation Sans', Arial, sans-serif" font-size="31.1" font-weight="normal" textLength="258.39" lengthAdjust="spacingAndGlyphs" >Fault Misalignment</text>
<rect x="77.00" y="606.60" width="863.70" height="246.50" fill="#bebebe" />
<g clip-path="url(#cc)">
<circle cx="173.50" cy="743.40" r="33.70" fill="#a01a9c"/>
<circle cx="210.60" cy="735.80" r="33.70" fill="#f58b47"/>
<circle cx="247.90" cy="727.20" r="33.70" fill="#f4ed27"/>
<circle cx="284.80" cy="719.10" r="33.70" fill="#f4ed27"/>
<circle cx="321.60" cy="710.00" r="33.70" fill="#fba139"/>
<circle cx="358.50" cy="703.40" r="33.70" fill="#fba139"/>
<circle cx="396.60" cy="697.70" r="33.70" fill="#eb7655"/>
<circle cx="434.00" cy="696.00" r="33.70" fill="#e06363"/>
<circle cx="472.00" cy="697.50" r="33.70" fill="#5901a5"/>
<circle cx="510.00" cy="697.50" r="33.70" fill="#5901a5"/>
<circle cx="547.10" cy="693.50" r="33.70" fill="#f58b47"/>
<circle cx="585.00" cy="687.60" r="33.70" fill="#5901a5"/>
<circle cx="621.90" cy="679.90" r="33.70" fill="#d35171"/>
<circle cx="659.30" cy="679.90" r="33.70" fill="#eb7655"/>
<circle cx="696.70" cy="681.40" r="33.70" fill="#8a09a5"/>
<circle cx="735.40" cy="684.00" r="33.70" fill="#b32c8e"/>
<circle cx="772.80" cy="689.10" r="33.70" fill="#eb7655"/>
<circle cx="809.50" cy="695.60" r="33.70" fill="#eb7655"/>
<polyline points="150.0,745.0 173.5,743.4 210.6,735.8 247.9,727.2 284.8,719.1 321.6,710.0 358.5,703.4 396.6,697.7 434.0,696.0 472.0,697.5 510.0,697.5 547.1,693.5 585.0,687.6 621.9,679.9 659.3,679.9 696.7,681.4 735.4,684.0 772.8,689.1 809.5,695.6 829.0,696.8 854.6,698.0 880.0,703.1 905.5,709.5 940.0,718.4" fill="none" stroke="#fff" stroke-width="5.0" stroke-linejoin="round" stroke-linecap="butt" />
<polyline points="120.1,697.5 131.0,703.0 142.5,708.7" fill="none" stroke="#fff" stroke-width="4.5" stroke-linejoin="round" stroke-linecap="butt" />
<polyline points="180.8,696.7 187.2,697.5" fill="none" stroke="#fff" stroke-width="4.0" stroke-linejoin="round" stroke-linecap="butt" />
<polyline points="174.4,705.5 191.2,709.5" fill="none" stroke="#fff" stroke-width="4.5" stroke-linejoin="round" stroke-linecap="butt" />
<polyline points="123.3,723.0 138.0,726.0 153.7,729.4" fill="none" stroke="#fff" stroke-width="5.0" stroke-linejoin="round" stroke-linecap="butt" />
<polyline points="131.3,748.6 142.0,745.0 152.0,742.2" fill="none" stroke="#fff" stroke-width="4.5" stroke-linejoin="round" stroke-linecap="butt" />
<polyline points="129.7,719.8 140.0,733.0 150.0,746.0" fill="none" stroke="#fff" stroke-width="5.0" stroke-linejoin="round" stroke-linecap="butt" />
<polyline points="127.0,730.0 152.0,738.0" fill="none" stroke="#fff" stroke-width="4.0" stroke-linejoin="round" stroke-linecap="butt" />
<polyline points="179.2,723.0 198.4,726.2" fill="none" stroke="#fff" stroke-width="5.0" stroke-linejoin="round" stroke-linecap="butt" />
<polyline points="228.7,718.2 235.1,719.8" fill="none" stroke="#fff" stroke-width="4.0" stroke-linejoin="round" stroke-linecap="butt" />
<polyline points="302.3,662.5 316.5,677.0" fill="none" stroke="#fff" stroke-width="5.0" stroke-linejoin="round" stroke-linecap="butt" />
<polyline points="322.0,678.0 327.0,670.0 334.0,668.0" fill="none" stroke="#fff" stroke-width="4.5" stroke-linejoin="round" stroke-linecap="butt" />
<polyline points="350.0,676.5 384.0,678.5" fill="none" stroke="#fff" stroke-width="4.5" stroke-linejoin="round" stroke-linecap="butt" />
<polyline points="360.0,682.0 378.0,694.0" fill="none" stroke="#fff" stroke-width="4.5" stroke-linejoin="round" stroke-linecap="butt" />
<polyline points="424.0,678.5 450.0,680.5" fill="none" stroke="#fff" stroke-width="4.5" stroke-linejoin="round" stroke-linecap="butt" />
<polyline points="440.0,680.0 465.8,684.6" fill="none" stroke="#fff" stroke-width="5.5" stroke-linejoin="round" stroke-linecap="butt" />
<polyline points="457.6,665.8 475.2,675.2" fill="none" stroke="#fff" stroke-width="5.0" stroke-linejoin="round" stroke-linecap="butt" />
<polyline points="480.0,661.0 494.0,670.5" fill="none" stroke="#fff" stroke-width="5.0" stroke-linejoin="round" stroke-linecap="butt" />
<polyline points="478.8,675.2 505.8,682.2" fill="none" stroke="#fff" stroke-width="5.0" stroke-linejoin="round" stroke-linecap="butt" />
<polyline points="492.0,666.0 506.0,672.0" fill="none" stroke="#fff" stroke-width="6.0" stroke-linejoin="round" stroke-linecap="butt" />
<polyline points="496.4,690.5 512.8,703.4 524.6,716.0 541.0,739.0" fill="none" stroke="#fff" stroke-width="5.5" stroke-linejoin="round" stroke-linecap="butt" />
<polyline points="447.0,692.5 456.4,697.0" fill="none" stroke="#fff" stroke-width="4.0" stroke-linejoin="round" stroke-linecap="butt" />
<polyline points="486.0,713.0 500.0,716.0" fill="none" stroke="#fff" stroke-width="4.0" stroke-linejoin="round" stroke-linecap="butt" />
<polyline points="530.0,757.0 531.0,786.0" fill="none" stroke="#fff" stroke-width="4.5" stroke-linejoin="round" stroke-linecap="butt" />
<polyline points="522.0,745.0 526.0,760.0" fill="none" stroke="#fff" stroke-width="4.0" stroke-linejoin="round" stroke-linecap="butt" />
<polyline points="546.0,612.0 575.0,621.0" fill="none" stroke="#fff" stroke-width="5.0" stroke-linejoin="round" stroke-linecap="butt" />
<polyline points="578.0,631.0 590.0,640.0" fill="none" stroke="#fff" stroke-width="5.0" stroke-linejoin="round" stroke-linecap="butt" />
<polyline points="563.0,643.0 590.0,650.0" fill="none" stroke="#fff" stroke-width="5.0" stroke-linejoin="round" stroke-linecap="butt" />
<polyline points="587.0,646.0 610.0,665.0" fill="none" stroke="#fff" stroke-width="5.0" stroke-linejoin="round" stroke-linecap="butt" />
<polyline points="560.0,672.0 569.0,681.0" fill="none" stroke="#fff" stroke-width="4.0" stroke-linejoin="round" stroke-linecap="butt" />
<polyline points="593.0,663.0 610.0,669.0" fill="none" stroke="#fff" stroke-width="4.0" stroke-linejoin="round" stroke-linecap="butt" />
<polyline points="316.0,776.5 368.6,775.3" fill="none" stroke="#fff" stroke-width="4.5" stroke-linejoin="round" stroke-linecap="butt" />
<polyline points="350.0,778.0 368.6,779.0 393.0,786.3" fill="none" stroke="#fff" stroke-width="4.5" stroke-linejoin="round" stroke-linecap="butt" />
<polyline points="393.0,770.0 415.0,786.0" fill="none" stroke="#fff" stroke-width="5.0" stroke-linejoin="round" stroke-linecap="butt" />
<polyline points="400.0,767.0 410.0,775.0" fill="none" stroke="#fff" stroke-width="4.5" stroke-linejoin="round" stroke-linecap="butt" />
<polyline points="407.8,806.0 422.5,811.0" fill="none" stroke="#fff" stroke-width="4.0" stroke-linejoin="round" stroke-linecap="butt" />
<polyline points="411.4,823.0 427.4,833.0" fill="none" stroke="#fff" stroke-width="4.0" stroke-linejoin="round" stroke-linecap="butt" />
<polyline points="337.5,776.0 345.0,779.0" fill="none" stroke="#fff" stroke-width="4.0" stroke-linejoin="round" stroke-linecap="butt" />
<polyline points="768.6,611.5 782.0,622.9 803.7,630.6 826.6,640.7 852.0,653.5 880.0,671.3 905.5,684.0 940.0,698.0" fill="none" stroke="#fff" stroke-width="4.5" stroke-linejoin="round" stroke-linecap="butt" />
<polyline points="785.8,615.3 813.8,622.3" fill="none" stroke="#fff" stroke-width="4.5" stroke-linejoin="round" stroke-linecap="butt" />
<polyline points="800.0,635.0 850.0,660.0 900.0,688.0 940.0,703.0" fill="none" stroke="#fff" stroke-width="4.5" stroke-linejoin="round" stroke-linecap="butt" />
<polyline points="850.0,678.0 900.0,700.0 940.0,713.0" fill="none" stroke="#fff" stroke-width="4.5" stroke-linejoin="round" stroke-linecap="butt" />
<polyline points="802.0,618.0 832.0,627.0" fill="none" stroke="#fff" stroke-width="4.0" stroke-linejoin="round" stroke-linecap="butt" />
<polyline points="870.0,690.0 905.0,702.0 940.0,714.0" fill="none" stroke="#fff" stroke-width="4.0" stroke-linejoin="round" stroke-linecap="butt" />
<polyline points="821.5,629.3 838.0,640.0 854.6,651.0" fill="none" stroke="#fff" stroke-width="6.0" stroke-linejoin="round" stroke-linecap="butt" />
<polyline points="791.0,644.6 816.4,656.0 848.2,671.3 873.7,682.8 905.5,695.5 940.0,708.2" fill="none" stroke="#fff" stroke-width="4.5" stroke-linejoin="round" stroke-linecap="butt" />
<polyline points="779.5,651.0 801.1,666.2 812.0,675.0" fill="none" stroke="#fff" stroke-width="5.0" stroke-linejoin="round" stroke-linecap="butt" />
<polyline points="750.2,666.2 778.2,673.8" fill="none" stroke="#fff" stroke-width="5.5" stroke-linejoin="round" stroke-linecap="butt" />
<polyline points="782.0,704.4 802.0,716.0 822.8,727.3" fill="none" stroke="#fff" stroke-width="5.0" stroke-linejoin="round" stroke-linecap="butt" />
<polyline points="712.2,686.6 742.8,732.4 768.3,738.8" fill="none" stroke="#fff" stroke-width="4.5" stroke-linejoin="round" stroke-linecap="butt" />
<polyline points="819.2,709.5 834.5,742.6 857.4,773.2" fill="none" stroke="#fff" stroke-width="4.5" stroke-linejoin="round" stroke-linecap="butt" />
<polyline points="875.2,727.3 905.0,745.0 941.4,765.5" fill="none" stroke="#fff" stroke-width="4.5" stroke-linejoin="round" stroke-linecap="butt" />
<polyline points="918.5,732.4 930.0,755.0 941.4,778.0" fill="none" stroke="#fff" stroke-width="4.5" stroke-linejoin="round" stroke-linecap="butt" />
<polyline points="930.0,735.0 941.0,745.0" fill="none" stroke="#fff" stroke-width="4.5" stroke-linejoin="round" stroke-linecap="butt" />
<polyline points="755.5,798.6 775.0,812.0 790.0,825.0 819.2,852.0" fill="none" stroke="#fff" stroke-width="5.5" stroke-linejoin="round" stroke-linecap="butt" />
<polyline points="765.0,810.0 782.0,830.0 800.0,852.0" fill="none" stroke="#fff" stroke-width="5.0" stroke-linejoin="round" stroke-linecap="butt" />
<polyline points="780.0,800.0 800.0,818.0 815.0,835.0" fill="none" stroke="#fff" stroke-width="4.5" stroke-linejoin="round" stroke-linecap="butt" />
<polyline points="877.8,834.0 890.5,844.5" fill="none" stroke="#fff" stroke-width="4.0" stroke-linejoin="round" stroke-linecap="butt" />
<polyline points="915.0,848.0 925.0,845.0" fill="none" stroke="#fff" stroke-width="4.0" stroke-linejoin="round" stroke-linecap="butt" />
<circle cx="173.50" cy="743.40" r="13.90" fill="#570000" stroke="#000" stroke-width="3.8"/>
<circle cx="210.60" cy="735.80" r="13.90" fill="#3c0000" stroke="#000" stroke-width="3.8"/>
<circle cx="247.90" cy="727.20" r="13.90" fill="#ff3c00" stroke="#000" stroke-width="3.8"/>
<circle cx="284.80" cy="719.10" r="13.90" fill="#ffa000" stroke="#000" stroke-width="3.8"/>
<circle cx="321.60" cy="710.00" r="13.90" fill="#ffff13" stroke="#000" stroke-width="3.8"/>
<circle cx="358.50" cy="703.40" r="13.90" fill="#ffb200" stroke="#000" stroke-width="3.8"/>
<circle cx="396.60" cy="697.70" r="13.90" fill="#d20000" stroke="#000" stroke-width="3.8"/>
<circle cx="434.00" cy="696.00" r="13.90" fill="#ba0000" stroke="#000" stroke-width="3.8"/>
<circle cx="472.00" cy="697.50" r="13.90" fill="#ff4700" stroke="#000" stroke-width="3.8"/>
<circle cx="510.00" cy="697.50" r="13.90" fill="#ff4700" stroke="#000" stroke-width="3.8"/>
<circle cx="547.10" cy="693.50" r="13.90" fill="#ff2f00" stroke="#000" stroke-width="3.8"/>
<circle cx="585.00" cy="687.60" r="13.90" fill="#ff2700" stroke="#000" stroke-width="3.8"/>
<circle cx="621.90" cy="679.90" r="13.90" fill="#960000" stroke="#000" stroke-width="3.8"/>
<circle cx="659.30" cy="679.90" r="13.90" fill="#830000" stroke="#000" stroke-width="3.8"/>
<circle cx="696.70" cy="681.40" r="13.90" fill="#a30000" stroke="#000" stroke-width="3.8"/>
<circle cx="735.40" cy="684.00" r="13.90" fill="#f20000" stroke="#000" stroke-width="3.8"/>
<circle cx="772.80" cy="689.10" r="13.90" fill="#ff4c00" stroke="#000" stroke-width="3.8"/>
<circle cx="809.50" cy="695.60" r="13.90" fill="#ff4700" stroke="#000" stroke-width="3.8"/>
<line x1="76.40" y1="606.60" x2="190.50" y2="853.10" stroke="#111" stroke-width="1.1" />
<line x1="192.80" y1="606.60" x2="304.40" y2="853.10" stroke="#111" stroke-width="1.1" />
<line x1="306.40" y1="606.60" x2="420.30" y2="853.10" stroke="#111" stroke-width="1.1" />
<line x1="423.10" y1="606.60" x2="536.90" y2="853.10" stroke="#111" stroke-width="1.1" />
<line x1="538.40" y1="606.60" x2="653.40" y2="853.10" stroke="#111" stroke-width="1.1" />
<line x1="654.50" y1="606.60" x2="770.40" y2="853.10" stroke="#111" stroke-width="1.1" />
<line x1="770.40" y1="606.60" x2="886.80" y2="853.10" stroke="#111" stroke-width="1.1" />
<line x1="886.80" y1="606.60" x2="1003.00" y2="853.10" stroke="#111" stroke-width="1.1" />
<line x1="291.70" y1="606.60" x2="77.00" y2="702.60" stroke="#111" stroke-width="1.1" />
<line x1="511.00" y1="606.60" x2="77.00" y2="804.10" stroke="#111" stroke-width="1.1" />
<line x1="727.60" y1="606.60" x2="188.60" y2="853.10" stroke="#111" stroke-width="1.1" />
<line x1="942.00" y1="606.60" x2="407.00" y2="853.10" stroke="#111" stroke-width="1.1" />
<line x1="940.70" y1="703.60" x2="618.60" y2="853.10" stroke="#111" stroke-width="1.1" />
<line x1="940.70" y1="802.00" x2="829.40" y2="853.10" stroke="#111" stroke-width="1.1" />
</g>
<rect x="74.45" y="604.05" width="868.70" height="251.30" fill="none" stroke="#000" stroke-width="5.1" />
<line x1="291.70" y1="604.00" x2="311.50" y2="596.70" stroke="#000" stroke-width="1.8" />
<line x1="511.00" y1="604.00" x2="531.60" y2="596.90" stroke="#000" stroke-width="1.8" />
<line x1="727.60" y1="604.00" x2="746.80" y2="596.90" stroke="#000" stroke-width="1.8" />
<line x1="944.00" y1="604.50" x2="958.20" y2="597.50" stroke="#000" stroke-width="1.8" />
<line x1="188.60" y1="856.00" x2="170.20" y2="862.40" stroke="#000" stroke-width="1.8" />
<line x1="407.00" y1="856.00" x2="387.80" y2="862.70" stroke="#000" stroke-width="1.8" />
<line x1="618.60" y1="856.00" x2="602.30" y2="862.70" stroke="#000" stroke-width="1.8" />
<line x1="829.40" y1="856.00" x2="811.70" y2="862.70" stroke="#000" stroke-width="1.8" />
<line x1="72.70" y1="851.00" x2="67.40" y2="839.00" stroke="#000" stroke-width="1.8" />
<line x1="945.70" y1="731.50" x2="950.20" y2="742.50" stroke="#000" stroke-width="1.8" />
<text x="281.24" y="591.50" font-family="'Liberation Sans', Arial, sans-serif" font-size="27.2" font-weight="normal" textLength="59.31" lengthAdjust="spacingAndGlyphs" >65.5°</text>
<text x="500.84" y="591.50" font-family="'Liberation Sans', Arial, sans-serif" font-size="27.2" font-weight="normal" textLength="59.31" lengthAdjust="spacingAndGlyphs" >66.0°</text>
<text x="716.04" y="591.50" font-family="'Liberation Sans', Arial, sans-serif" font-size="27.2" font-weight="normal" textLength="59.31" lengthAdjust="spacingAndGlyphs" >66.5°</text>
<text x="927.34" y="591.50" font-family="'Liberation Sans', Arial, sans-serif" font-size="27.2" font-weight="normal" textLength="59.31" lengthAdjust="spacingAndGlyphs" >67.0°</text>
<text x="139.24" y="886.40" font-family="'Liberation Sans', Arial, sans-serif" font-size="27.2" font-weight="normal" textLength="59.31" lengthAdjust="spacingAndGlyphs" >66.5°</text>
<text x="357.44" y="886.40" font-family="'Liberation Sans', Arial, sans-serif" font-size="27.2" font-weight="normal" textLength="59.31" lengthAdjust="spacingAndGlyphs" >67.0°</text>
<text x="571.64" y="886.40" font-family="'Liberation Sans', Arial, sans-serif" font-size="27.2" font-weight="normal" textLength="59.31" lengthAdjust="spacingAndGlyphs" >67.5°</text>
<text x="780.94" y="886.40" font-family="'Liberation Sans', Arial, sans-serif" font-size="27.2" font-weight="normal" textLength="59.31" lengthAdjust="spacingAndGlyphs" >68.0°</text>
<text x="1.36" y="849.80" font-family="'Liberation Sans', Arial, sans-serif" font-size="27.2" font-weight="normal" textLength="58.37" lengthAdjust="spacingAndGlyphs" >28.5°</text>
<text x="955.51" y="751.60" font-family="'Liberation Sans', Arial, sans-serif" font-size="27.2" font-weight="normal" textLength="58.32" lengthAdjust="spacingAndGlyphs" >32.5°</text>
<rect x="102.60" y="811.50" width="188.40" height="5.60" fill="#000" />
<rect x="141.28" y="813.00" width="35.68" height="2.60" fill="#fff" />
<rect x="216.64" y="813.00" width="35.68" height="2.60" fill="#fff" />
<line x1="102.60" y1="813.00" x2="102.60" y2="821.00" stroke="#000" stroke-width="1.6" />
<line x1="140.28" y1="813.00" x2="140.28" y2="819.00" stroke="#000" stroke-width="1.6" />
<line x1="177.96" y1="813.00" x2="177.96" y2="819.00" stroke="#000" stroke-width="1.6" />
<line x1="215.64" y1="813.00" x2="215.64" y2="819.00" stroke="#000" stroke-width="1.6" />
<line x1="253.32" y1="813.00" x2="253.32" y2="819.00" stroke="#000" stroke-width="1.6" />
<line x1="291.00" y1="813.00" x2="291.00" y2="821.00" stroke="#000" stroke-width="1.6" />
<text x="180.83" y="802.00" font-family="'Liberation Sans', Arial, sans-serif" font-size="23.0" font-weight="normal" textLength="32.19" lengthAdjust="spacingAndGlyphs" >km</text>
<text x="96.33" y="843.20" font-family="'Liberation Sans', Arial, sans-serif" font-size="24.8" font-weight="normal" textLength="13.44" lengthAdjust="spacingAndGlyphs" >0</text>
<text x="271.59" y="844.40" font-family="'Liberation Sans', Arial, sans-serif" font-size="25.6" font-weight="normal" textLength="42.38" lengthAdjust="spacingAndGlyphs" >100</text>
<g transform="translate(877.90,787.50) rotate(65.00)"><g transform="rotate(0)"><polygon points="0,-45.00 -6.08,-6.08 0,0" fill="#fff" stroke="#000" stroke-width="1.3" stroke-linejoin="round"/><polygon points="0,-45.00 6.08,-6.08 0,0" fill="#000" stroke="#000" stroke-width="1.3" stroke-linejoin="round"/></g><g transform="rotate(90)"><polygon points="0,-45.00 -6.08,-6.08 0,0" fill="#fff" stroke="#000" stroke-width="1.3" stroke-linejoin="round"/><polygon points="0,-45.00 6.08,-6.08 0,0" fill="#000" stroke="#000" stroke-width="1.3" stroke-linejoin="round"/></g><g transform="rotate(180)"><polygon points="0,-45.00 -6.08,-6.08 0,0" fill="#fff" stroke="#000" stroke-width="1.3" stroke-linejoin="round"/><polygon points="0,-45.00 6.08,-6.08 0,0" fill="#000" stroke="#000" stroke-width="1.3" stroke-linejoin="round"/></g><g transform="rotate(270)"><polygon points="0,-45.00 -6.08,-6.08 0,0" fill="#fff" stroke="#000" stroke-width="1.3" stroke-linejoin="round"/><polygon points="0,-45.00 6.08,-6.08 0,0" fill="#000" stroke="#000" stroke-width="1.3" stroke-linejoin="round"/></g></g>
<text x="0" y="0" font-family="'Liberation Sans', Arial, sans-serif" font-size="16" text-anchor="middle" dominant-baseline="central" transform="translate(927.60,762.80) rotate(65.00)">N</text>
<text x="0" y="0" font-family="'Liberation Sans', Arial, sans-serif" font-size="16" text-anchor="middle" dominant-baseline="central" transform="translate(901.00,836.00) rotate(65.00)">E</text>
<text x="0" y="0" font-family="'Liberation Sans', Arial, sans-serif" font-size="16" text-anchor="middle" dominant-baseline="central" transform="translate(828.00,809.00) rotate(65.00)">S</text>
<text x="0" y="0" font-family="'Liberation Sans', Arial, sans-serif" font-size="16" text-anchor="middle" dominant-baseline="central" transform="translate(852.60,734.60) rotate(65.00)">W</text>
<rect x="1027.80" y="869.14" width="29.20" height="3.76" fill="#2b1e1e" />
<rect x="1027.80" y="865.98" width="29.20" height="3.76" fill="#321d1d" />
<rect x="1027.80" y="862.82" width="29.20" height="3.76" fill="#391c1c" />
<rect x="1027.80" y="859.67" width="29.20" height="3.76" fill="#3e1b1b" />
<rect x="1027.80" y="856.51" width="29.20" height="3.76" fill="#451b1b" />
<rect x="1027.80" y="853.35" width="29.20" height="3.76" fill="#4c1a1a" />
<rect x="1027.80" y="850.19" width="29.20" height="3.76" fill="#531919" />
<rect x="1027.80" y="847.03" width="29.20" height="3.76" fill="#5a1818" />
<rect x="1027.80" y="843.88" width="29.20" height="3.76" fill="#611818" />
<rect x="1027.80" y="840.72" width="29.20" height="3.76" fill="#681717" />
<rect x="1027.80" y="837.56" width="29.20" height="3.76" fill="#6d1616" />
<rect x="1027.80" y="834.40" width="29.20" height="3.76" fill="#741515" />
<rect x="1027.80" y="831.24" width="29.20" height="3.76" fill="#7b1515" />
<rect x="1027.80" y="828.08" width="29.20" height="3.76" fill="#821414" />
<rect x="1027.80" y="824.92" width="29.20" height="3.76" fill="#891313" />
<rect x="1027.80" y="821.77" width="29.20" height="3.76" fill="#911212" />
<rect x="1027.80" y="818.61" width="29.20" height="3.76" fill="#951212" />
<rect x="1027.80" y="815.45" width="29.20" height="3.76" fill="#9c1111" />
<rect x="1027.80" y="812.29" width="29.20" height="3.76" fill="#a31010" />
<rect x="1027.80" y="809.13" width="29.20" height="3.76" fill="#aa0f0f" />
<rect x="1027.80" y="805.97" width="29.20" height="3.76" fill="#b20f0f" />
<rect x="1027.80" y="802.82" width="29.20" height="3.76" fill="#b90e0e" />
<rect x="1027.80" y="799.66" width="29.20" height="3.76" fill="#c00d0d" />
<rect x="1027.80" y="796.50" width="29.20" height="3.76" fill="#c40c0c" />
<rect x="1027.80" y="793.34" width="29.20" height="3.76" fill="#cb0c0c" />
<rect x="1027.80" y="790.18" width="29.20" height="3.76" fill="#d30b0b" />
<rect x="1027.80" y="787.02" width="29.20" height="3.76" fill="#da0a0a" />
<rect x="1027.80" y="783.87" width="29.20" height="3.76" fill="#e10909" />
<rect x="1027.80" y="780.71" width="29.20" height="3.76" fill="#e80909" />
<rect x="1027.80" y="777.55" width="29.20" height="3.76" fill="#ec0808" />
<rect x="1027.80" y="774.39" width="29.20" height="3.76" fill="#f40707" />
<rect x="1027.80" y="771.23" width="29.20" height="3.76" fill="#fb0606" />
<rect x="1027.80" y="768.07" width="29.20" height="3.76" fill="#ff0606" />
<rect x="1027.80" y="764.92" width="29.20" height="3.76" fill="#ff0a05" />
<rect x="1027.80" y="761.76" width="29.20" height="3.76" fill="#ff1104" />
<rect x="1027.80" y="758.60" width="29.20" height="3.76" fill="#ff1603" />
<rect x="1027.80" y="755.44" width="29.20" height="3.76" fill="#ff1d03" />
<rect x="1027.80" y="752.28" width="29.20" height="3.76" fill="#ff2402" />
<rect x="1027.80" y="749.12" width="29.20" height="3.76" fill="#ff2b01" />
<rect x="1027.80" y="745.97" width="29.20" height="3.76" fill="#ff3200" />
<rect x="1027.80" y="742.81" width="29.20" height="3.76" fill="#ff3a00" />
<rect x="1027.80" y="739.65" width="29.20" height="3.76" fill="#ff4100" />
<rect x="1027.80" y="736.49" width="29.20" height="3.76" fill="#ff4700" />
<rect x="1027.80" y="733.33" width="29.20" height="3.76" fill="#ff4f00" />
<rect x="1027.80" y="730.17" width="29.20" height="3.76" fill="#ff5600" />
<rect x="1027.80" y="727.02" width="29.20" height="3.76" fill="#ff5e00" />
<rect x="1027.80" y="723.86" width="29.20" height="3.76" fill="#ff6600" />
<rect x="1027.80" y="720.70" width="29.20" height="3.76" fill="#ff6e00" />
<rect x="1027.80" y="717.54" width="29.20" height="3.76" fill="#ff7300" />
<rect x="1027.80" y="714.38" width="29.20" height="3.76" fill="#ff7b00" />
<rect x="1027.80" y="711.22" width="29.20" height="3.76" fill="#ff8300" />
<rect x="1027.80" y="708.07" width="29.20" height="3.76" fill="#ff8b00" />
<rect x="1027.80" y="704.91" width="29.20" height="3.76" fill="#ff9300" />
<rect x="1027.80" y="701.75" width="29.20" height="3.76" fill="#ff9b00" />
<rect x="1027.80" y="698.59" width="29.20" height="3.76" fill="#ffa200" />
<rect x="1027.80" y="695.43" width="29.20" height="3.76" fill="#ffa800" />
<rect x="1027.80" y="692.27" width="29.20" height="3.76" fill="#ffb000" />
<rect x="1027.80" y="689.12" width="29.20" height="3.76" fill="#ffb700" />
<rect x="1027.80" y="685.96" width="29.20" height="3.76" fill="#ffbf00" />
<rect x="1027.80" y="682.80" width="29.20" height="3.76" fill="#ffc700" />
<rect x="1027.80" y="679.64" width="29.20" height="3.76" fill="#ffcf00" />
<rect x="1027.80" y="676.48" width="29.20" height="3.76" fill="#ffd400" />
<rect x="1027.80" y="673.32" width="29.20" height="3.76" fill="#ffdc00" />
<rect x="1027.80" y="670.17" width="29.20" height="3.76" fill="#ffe400" />
<rect x="1027.80" y="667.01" width="29.20" height="3.76" fill="#ffec00" />
<rect x="1027.80" y="663.85" width="29.20" height="3.76" fill="#fff400" />
<rect x="1027.80" y="660.69" width="29.20" height="3.76" fill="#fffc00" />
<rect x="1027.80" y="657.53" width="29.20" height="3.76" fill="#ffff07" />
<rect x="1027.80" y="654.38" width="29.20" height="3.76" fill="#ffff0f" />
<rect x="1027.80" y="651.22" width="29.20" height="3.76" fill="#ffff1b" />
<rect x="1027.80" y="648.06" width="29.20" height="3.76" fill="#ffff26" />
<rect x="1027.80" y="644.90" width="29.20" height="3.76" fill="#ffff32" />
<rect x="1027.80" y="641.74" width="29.20" height="3.76" fill="#ffff3e" />
<rect x="1027.80" y="638.58" width="29.20" height="3.76" fill="#ffff4a" />
<rect x="1027.80" y="635.42" width="29.20" height="3.76" fill="#ffff52" />
<rect x="1027.80" y="632.27" width="29.20" height="3.76" fill="#ffff5e" />
<rect x="1027.80" y="629.11" width="29.20" height="3.76" fill="#ffff69" />
<rect x="1027.80" y="625.95" width="29.20" height="3.76" fill="#ffff75" />
<rect x="1027.80" y="622.79" width="29.20" height="3.76" fill="#ffff81" />
<rect x="1027.80" y="619.63" width="29.20" height="3.76" fill="#ffff8d" />
<rect x="1027.80" y="616.48" width="29.20" height="3.76" fill="#ffff95" />
<rect x="1027.80" y="613.32" width="29.20" height="3.76" fill="#ffffa0" />
<rect x="1027.80" y="610.16" width="29.20" height="3.76" fill="#ffffac" />
<rect x="1027.80" y="607.00" width="29.20" height="3.76" fill="#ffffb8" />
<rect x="1027.80" y="603.84" width="29.20" height="3.76" fill="#ffffc4" />
<rect x="1027.80" y="600.68" width="29.20" height="3.76" fill="#ffffd0" />
<rect x="1027.80" y="597.52" width="29.20" height="3.76" fill="#ffffdc" />
<rect x="1027.80" y="594.37" width="29.20" height="3.76" fill="#ffffe3" />
<rect x="1027.80" y="591.21" width="29.20" height="3.76" fill="#ffffef" />
<rect x="1027.80" y="588.05" width="29.20" height="3.76" fill="#fffffb" />
<rect x="1027.80" y="588.05" width="29.20" height="284.25" fill="none" stroke="#000" stroke-width="5.1" />
<line x1="1059.50" y1="872.30" x2="1066.00" y2="872.30" stroke="#000" stroke-width="1.5" />
<text x="1069.38" y="883.00" font-family="'Liberation Sans', Arial, sans-serif" font-size="29.2" font-weight="normal" textLength="15.53" lengthAdjust="spacingAndGlyphs" >0</text>
<line x1="1059.50" y1="840.72" x2="1066.00" y2="840.72" stroke="#000" stroke-width="1.5" />
<line x1="1059.50" y1="809.13" x2="1066.00" y2="809.13" stroke="#000" stroke-width="1.5" />
<text x="1069.03" y="819.83" font-family="'Liberation Sans', Arial, sans-serif" font-size="29.2" font-weight="normal" textLength="16.38" lengthAdjust="spacingAndGlyphs" >2</text>
<line x1="1059.50" y1="777.55" x2="1066.00" y2="777.55" stroke="#000" stroke-width="1.5" />
<line x1="1059.50" y1="745.97" x2="1066.00" y2="745.97" stroke="#000" stroke-width="1.5" />
<text x="1068.46" y="756.67" font-family="'Liberation Sans', Arial, sans-serif" font-size="29.2" font-weight="normal" textLength="17.84" lengthAdjust="spacingAndGlyphs" >4</text>
<line x1="1059.50" y1="714.38" x2="1066.00" y2="714.38" stroke="#000" stroke-width="1.5" />
<line x1="1059.50" y1="682.80" x2="1066.00" y2="682.80" stroke="#000" stroke-width="1.5" />
<text x="1069.06" y="693.50" font-family="'Liberation Sans', Arial, sans-serif" font-size="29.2" font-weight="normal" textLength="16.03" lengthAdjust="spacingAndGlyphs" >6</text>
<line x1="1059.50" y1="651.22" x2="1066.00" y2="651.22" stroke="#000" stroke-width="1.5" />
<line x1="1059.50" y1="619.63" x2="1066.00" y2="619.63" stroke="#000" stroke-width="1.5" />
<text x="1069.22" y="630.33" font-family="'Liberation Sans', Arial, sans-serif" font-size="29.2" font-weight="normal" textLength="15.86" lengthAdjust="spacingAndGlyphs" >8</text>
<line x1="1059.50" y1="588.05" x2="1066.00" y2="588.05" stroke="#000" stroke-width="1.5" />
<text x="0" y="0" font-family="'Liberation Sans', Arial, sans-serif" font-size="30" text-anchor="middle" transform="translate(1115.60,732.60) rotate(-90)" textLength="256.7" lengthAdjust="spacingAndGlyphs">Creep Rate (mm/yr)</text>
<rect x="54.50" y="914.25" width="57.26" height="27.65" fill="#f4ed27" />
<rect x="111.26" y="914.25" width="57.26" height="27.65" fill="#fcd225" />
<rect x="168.03" y="914.25" width="57.26" height="27.65" fill="#feb82c" />
<rect x="224.79" y="914.25" width="57.26" height="27.65" fill="#fba139" />
<rect x="281.55" y="914.25" width="57.26" height="27.65" fill="#f58b47" />
<rect x="338.31" y="914.25" width="57.26" height="27.65" fill="#eb7655" />
<rect x="395.08" y="914.25" width="57.26" height="27.65" fill="#e06363" />
<rect x="451.84" y="914.25" width="57.26" height="27.65" fill="#d35171" />
<rect x="508.60" y="914.25" width="57.26" height="27.65" fill="#c43e7f" />
<rect x="565.36" y="914.25" width="57.26" height="27.65" fill="#b32c8e" />
<rect x="622.12" y="914.25" width="57.26" height="27.65" fill="#a01a9c" />
<rect x="678.89" y="914.25" width="57.26" height="27.65" fill="#8a09a5" />
<rect x="735.65" y="914.25" width="57.26" height="27.65" fill="#7201a8" />
<rect x="792.41" y="914.25" width="57.26" height="27.65" fill="#5901a5" />
<rect x="849.18" y="914.25" width="57.26" height="27.65" fill="#3f049c" />
<rect x="905.94" y="914.25" width="57.26" height="27.65" fill="#220690" />
<line x1="111.26" y1="914.25" x2="111.26" y2="941.90" stroke="#fff" stroke-width="0.7" stroke-opacity="0.22"/>
<line x1="168.03" y1="914.25" x2="168.03" y2="941.90" stroke="#fff" stroke-width="0.7" stroke-opacity="0.22"/>
<line x1="224.79" y1="914.25" x2="224.79" y2="941.90" stroke="#fff" stroke-width="0.7" stroke-opacity="0.22"/>
<line x1="281.55" y1="914.25" x2="281.55" y2="941.90" stroke="#fff" stroke-width="0.7" stroke-opacity="0.22"/>
<line x1="338.31" y1="914.25" x2="338.31" y2="941.90" stroke="#fff" stroke-width="0.7" stroke-opacity="0.22"/>
<line x1="395.08" y1="914.25" x2="395.08" y2="941.90" stroke="#fff" stroke-width="0.7" stroke-opacity="0.22"/>
<line x1="451.84" y1="914.25" x2="451.84" y2="941.90" stroke="#fff" stroke-width="0.7" stroke-opacity="0.22"/>
<line x1="508.60" y1="914.25" x2="508.60" y2="941.90" stroke="#fff" stroke-width="0.7" stroke-opacity="0.22"/>
<line x1="565.36" y1="914.25" x2="565.36" y2="941.90" stroke="#fff" stroke-width="0.7" stroke-opacity="0.22"/>
<line x1="622.12" y1="914.25" x2="622.12" y2="941.90" stroke="#fff" stroke-width="0.7" stroke-opacity="0.22"/>
<line x1="678.89" y1="914.25" x2="678.89" y2="941.90" stroke="#fff" stroke-width="0.7" stroke-opacity="0.22"/>
<line x1="735.65" y1="914.25" x2="735.65" y2="941.90" stroke="#fff" stroke-width="0.7" stroke-opacity="0.22"/>
<line x1="792.41" y1="914.25" x2="792.41" y2="941.90" stroke="#fff" stroke-width="0.7" stroke-opacity="0.22"/>
<line x1="849.18" y1="914.25" x2="849.18" y2="941.90" stroke="#fff" stroke-width="0.7" stroke-opacity="0.22"/>
<line x1="905.94" y1="914.25" x2="905.94" y2="941.90" stroke="#fff" stroke-width="0.7" stroke-opacity="0.22"/>
<rect x="54.50" y="914.25" width="908.20" height="27.65" fill="none" stroke="#000" stroke-width="5.2" />
<line x1="54.50" y1="944.40" x2="54.50" y2="951.20" stroke="#000" stroke-width="1.6" />
<line x1="111.26" y1="944.40" x2="111.26" y2="951.20" stroke="#000" stroke-width="1.6" />
<line x1="168.03" y1="944.40" x2="168.03" y2="951.20" stroke="#000" stroke-width="1.6" />
<line x1="224.79" y1="944.40" x2="224.79" y2="951.20" stroke="#000" stroke-width="1.6" />
<line x1="281.55" y1="944.40" x2="281.55" y2="951.20" stroke="#000" stroke-width="1.6" />
<line x1="338.31" y1="944.40" x2="338.31" y2="951.20" stroke="#000" stroke-width="1.6" />
<line x1="395.08" y1="944.40" x2="395.08" y2="951.20" stroke="#000" stroke-width="1.6" />
<line x1="451.84" y1="944.40" x2="451.84" y2="951.20" stroke="#000" stroke-width="1.6" />
<line x1="508.60" y1="944.40" x2="508.60" y2="951.20" stroke="#000" stroke-width="1.6" />
<line x1="565.36" y1="944.40" x2="565.36" y2="951.20" stroke="#000" stroke-width="1.6" />
<line x1="622.12" y1="944.40" x2="622.12" y2="951.20" stroke="#000" stroke-width="1.6" />
<line x1="678.89" y1="944.40" x2="678.89" y2="951.20" stroke="#000" stroke-width="1.6" />
<line x1="735.65" y1="944.40" x2="735.65" y2="951.20" stroke="#000" stroke-width="1.6" />
<line x1="792.41" y1="944.40" x2="792.41" y2="951.20" stroke="#000" stroke-width="1.6" />
<line x1="849.18" y1="944.40" x2="849.18" y2="951.20" stroke="#000" stroke-width="1.6" />
<line x1="905.94" y1="944.40" x2="905.94" y2="951.20" stroke="#000" stroke-width="1.6" />
<line x1="962.70" y1="944.40" x2="962.70" y2="951.20" stroke="#000" stroke-width="1.6" />
<text x="197.36" y="975.90" font-family="'Liberation Sans', Arial, sans-serif" font-size="30.3" font-weight="normal" textLength="54.96" lengthAdjust="spacingAndGlyphs" >0.20</text>
<text x="481.17" y="975.90" font-family="'Liberation Sans', Arial, sans-serif" font-size="30.3" font-weight="normal" textLength="55.10" lengthAdjust="spacingAndGlyphs" >0.25</text>
<text x="764.98" y="975.90" font-family="'Liberation Sans', Arial, sans-serif" font-size="30.3" font-weight="normal" textLength="54.96" lengthAdjust="spacingAndGlyphs" >0.30</text>
<text x="382.46" y="1010.70" font-family="'Liberation Sans', Arial, sans-serif" font-size="31.4" font-weight="normal" textLength="255.96" lengthAdjust="spacingAndGlyphs" >Fault Misalignment</text>
<rect x="1252.60" y="76.50" width="371.80" height="362.30" fill="none" stroke="#1a1a1a" stroke-width="1.15" />
<line x1="1282.30" y1="438.80" x2="1282.30" y2="443.40" stroke="#000" stroke-width="1.1" />
<text x="1282.30" y="464.20" font-family="'DejaVu Sans', sans-serif" font-size="22.6" font-weight="normal" text-anchor="middle" fill="#000" >0.05</text>
<line x1="1373.10" y1="438.80" x2="1373.10" y2="443.40" stroke="#000" stroke-width="1.1" />
<text x="1373.10" y="464.20" font-family="'DejaVu Sans', sans-serif" font-size="22.6" font-weight="normal" text-anchor="middle" fill="#000" >0.10</text>
<line x1="1463.90" y1="438.80" x2="1463.90" y2="443.40" stroke="#000" stroke-width="1.1" />
<text x="1463.90" y="464.20" font-family="'DejaVu Sans', sans-serif" font-size="22.6" font-weight="normal" text-anchor="middle" fill="#000" >0.15</text>
<line x1="1554.70" y1="438.80" x2="1554.70" y2="443.40" stroke="#000" stroke-width="1.1" />
<text x="1554.70" y="464.20" font-family="'DejaVu Sans', sans-serif" font-size="22.6" font-weight="normal" text-anchor="middle" fill="#000" >0.20</text>
<line x1="1248.00" y1="410.40" x2="1252.60" y2="410.40" stroke="#000" stroke-width="1.1" />
<text x="1244.30" y="418.60" font-family="'DejaVu Sans', sans-serif" font-size="22.6" font-weight="normal" text-anchor="end" fill="#000" >0</text>
<line x1="1248.00" y1="339.05" x2="1252.60" y2="339.05" stroke="#000" stroke-width="1.1" />
<text x="1244.30" y="347.25" font-family="'DejaVu Sans', sans-serif" font-size="22.6" font-weight="normal" text-anchor="end" fill="#000" >2</text>
<line x1="1248.00" y1="267.70" x2="1252.60" y2="267.70" stroke="#000" stroke-width="1.1" />
<text x="1244.30" y="275.90" font-family="'DejaVu Sans', sans-serif" font-size="22.6" font-weight="normal" text-anchor="end" fill="#000" >4</text>
<line x1="1248.00" y1="196.35" x2="1252.60" y2="196.35" stroke="#000" stroke-width="1.1" />
<text x="1244.30" y="204.55" font-family="'DejaVu Sans', sans-serif" font-size="22.6" font-weight="normal" text-anchor="end" fill="#000" >6</text>
<line x1="1248.00" y1="125.00" x2="1252.60" y2="125.00" stroke="#000" stroke-width="1.1" />
<text x="1244.30" y="133.20" font-family="'DejaVu Sans', sans-serif" font-size="22.6" font-weight="normal" text-anchor="end" fill="#000" >8</text>
<line x1="1286.50" y1="198.80" x2="1286.50" y2="270.60" stroke="#0000ff" stroke-width="3.4" />
<line x1="1318.80" y1="253.50" x2="1318.80" y2="322.60" stroke="#0000ff" stroke-width="3.4" />
<line x1="1333.80" y1="110.60" x2="1333.80" y2="300.80" stroke="#0000ff" stroke-width="3.4" />
<line x1="1337.40" y1="92.70" x2="1337.40" y2="131.50" stroke="#0000ff" stroke-width="3.4" />
<line x1="1394.50" y1="103.30" x2="1394.50" y2="206.70" stroke="#0000ff" stroke-width="3.4" />
<line x1="1502.40" y1="302.40" x2="1502.40" y2="384.80" stroke="#0000ff" stroke-width="3.4" />
<line x1="1542.20" y1="342.10" x2="1542.20" y2="422.30" stroke="#0000ff" stroke-width="3.4" />
<circle cx="1269.20" cy="410.60" r="7.40" fill="#0000ff"/>
<circle cx="1286.50" cy="234.40" r="7.40" fill="#0000ff"/>
<circle cx="1318.80" cy="287.80" r="7.40" fill="#0000ff"/>
<circle cx="1333.80" cy="205.70" r="7.40" fill="#0000ff"/>
<circle cx="1337.40" cy="112.60" r="7.40" fill="#0000ff"/>
<circle cx="1394.50" cy="155.00" r="7.40" fill="#0000ff"/>
<circle cx="1443.50" cy="410.50" r="7.40" fill="#0000ff"/>
<circle cx="1502.40" cy="343.60" r="7.40" fill="#0000ff"/>
<circle cx="1503.50" cy="410.50" r="7.40" fill="#0000ff"/>
<circle cx="1542.20" cy="382.00" r="7.40" fill="#0000ff"/>
<circle cx="1559.30" cy="410.50" r="7.40" fill="#0000ff"/>
<circle cx="1607.10" cy="410.50" r="7.40" fill="#0000ff"/>
<text x="1438.50" y="70.10" font-family="'DejaVu Sans', sans-serif" font-size="27" font-weight="normal" text-anchor="middle" fill="#000" >RC=-0.46</text>
<text x="1438.50" y="492.40" font-family="'DejaVu Sans', sans-serif" font-size="27" font-weight="normal" text-anchor="middle" fill="#000" >Fault Misalignment</text>
<text x="0" y="0" font-family="'DejaVu Sans', sans-serif" font-size="27" text-anchor="middle" transform="translate(1219.40,257.65) rotate(-90)">Creep Rate (mm/yr)</text>
<rect x="1252.60" y="596.20" width="371.80" height="362.10" fill="none" stroke="#1a1a1a" stroke-width="1.15" />
<line x1="1323.40" y1="958.30" x2="1323.40" y2="962.90" stroke="#000" stroke-width="1.1" />
<text x="1323.40" y="983.70" font-family="'DejaVu Sans', sans-serif" font-size="22.6" font-weight="normal" text-anchor="middle" fill="#000" >0.20</text>
<line x1="1441.55" y1="958.30" x2="1441.55" y2="962.90" stroke="#000" stroke-width="1.1" />
<text x="1441.55" y="983.70" font-family="'DejaVu Sans', sans-serif" font-size="22.6" font-weight="normal" text-anchor="middle" fill="#000" >0.25</text>
<line x1="1559.70" y1="958.30" x2="1559.70" y2="962.90" stroke="#000" stroke-width="1.1" />
<text x="1559.70" y="983.70" font-family="'DejaVu Sans', sans-serif" font-size="22.6" font-weight="normal" text-anchor="middle" fill="#000" >0.30</text>
<line x1="1248.00" y1="911.20" x2="1252.60" y2="911.20" stroke="#000" stroke-width="1.1" />
<text x="1244.30" y="919.40" font-family="'DejaVu Sans', sans-serif" font-size="22.6" font-weight="normal" text-anchor="end" fill="#000" >0</text>
<line x1="1248.00" y1="838.42" x2="1252.60" y2="838.42" stroke="#000" stroke-width="1.1" />
<text x="1244.30" y="846.62" font-family="'DejaVu Sans', sans-serif" font-size="22.6" font-weight="normal" text-anchor="end" fill="#000" >2</text>
<line x1="1248.00" y1="765.64" x2="1252.60" y2="765.64" stroke="#000" stroke-width="1.1" />
<text x="1244.30" y="773.84" font-family="'DejaVu Sans', sans-serif" font-size="22.6" font-weight="normal" text-anchor="end" fill="#000" >4</text>
<line x1="1248.00" y1="692.86" x2="1252.60" y2="692.86" stroke="#000" stroke-width="1.1" />
<text x="1244.30" y="701.06" font-family="'DejaVu Sans', sans-serif" font-size="22.6" font-weight="normal" text-anchor="end" fill="#000" >6</text>
<line x1="1248.00" y1="620.08" x2="1252.60" y2="620.08" stroke="#000" stroke-width="1.1" />
<text x="1244.30" y="628.28" font-family="'DejaVu Sans', sans-serif" font-size="22.6" font-weight="normal" text-anchor="end" fill="#000" >8</text>
<line x1="1269.10" y1="677.00" x2="1269.10" y2="750.30" stroke="#0000ff" stroke-width="2.2" />
<line x1="1275.10" y1="710.40" x2="1275.10" y2="815.40" stroke="#0000ff" stroke-width="2.2" />
<line x1="1343.70" y1="612.80" x2="1343.70" y2="710.80" stroke="#0000ff" stroke-width="2.2" />
<line x1="1344.50" y1="638.00" x2="1344.50" y2="772.00" stroke="#0000ff" stroke-width="2.2" />
<line x1="1363.00" y1="675.90" x2="1363.00" y2="861.80" stroke="#0000ff" stroke-width="2.2" />
<line x1="1376.60" y1="685.00" x2="1376.60" y2="828.40" stroke="#0000ff" stroke-width="2.2" />
<line x1="1385.00" y1="684.10" x2="1385.00" y2="825.10" stroke="#0000ff" stroke-width="2.2" />
<line x1="1397.10" y1="771.20" x2="1397.10" y2="877.90" stroke="#0000ff" stroke-width="2.2" />
<line x1="1380.30" y1="755.90" x2="1380.30" y2="871.50" stroke="#0000ff" stroke-width="2.2" />
<line x1="1422.10" y1="818.00" x2="1422.10" y2="868.20" stroke="#0000ff" stroke-width="2.2" />
<line x1="1373.80" y1="825.10" x2="1373.80" y2="877.90" stroke="#0000ff" stroke-width="2.2" />
<line x1="1354.20" y1="830.50" x2="1354.20" y2="942.00" stroke="#0000ff" stroke-width="2.2" />
<line x1="1484.70" y1="766.90" x2="1484.70" y2="829.40" stroke="#0000ff" stroke-width="2.2" />
<line x1="1509.20" y1="834.30" x2="1509.20" y2="912.50" stroke="#0000ff" stroke-width="2.2" />
<line x1="1534.90" y1="796.00" x2="1534.90" y2="877.80" stroke="#0000ff" stroke-width="2.2" />
<line x1="1568.40" y1="694.70" x2="1568.40" y2="850.70" stroke="#0000ff" stroke-width="2.2" />
<line x1="1582.60" y1="679.80" x2="1582.60" y2="835.40" stroke="#0000ff" stroke-width="2.2" />
<line x1="1607.20" y1="698.40" x2="1607.20" y2="815.30" stroke="#0000ff" stroke-width="2.2" />
<circle cx="1269.10" cy="713.60" r="7.40" fill="#0000ff"/>
<circle cx="1275.10" cy="762.60" r="7.40" fill="#0000ff"/>
<circle cx="1343.70" cy="661.80" r="7.40" fill="#0000ff"/>
<circle cx="1344.50" cy="705.00" r="7.40" fill="#0000ff"/>
<circle cx="1363.00" cy="768.70" r="7.40" fill="#0000ff"/>
<circle cx="1376.60" cy="756.80" r="7.40" fill="#0000ff"/>
<circle cx="1385.00" cy="754.60" r="7.40" fill="#0000ff"/>
<circle cx="1397.10" cy="824.70" r="7.40" fill="#0000ff"/>
<circle cx="1380.30" cy="813.70" r="7.40" fill="#0000ff"/>
<circle cx="1422.10" cy="843.00" r="7.40" fill="#0000ff"/>
<circle cx="1373.80" cy="851.40" r="7.40" fill="#0000ff"/>
<circle cx="1354.20" cy="886.60" r="7.40" fill="#0000ff"/>
<circle cx="1484.70" cy="797.80" r="7.40" fill="#0000ff"/>
<circle cx="1509.20" cy="873.40" r="7.40" fill="#0000ff"/>
<circle cx="1534.90" cy="836.90" r="7.40" fill="#0000ff"/>
<circle cx="1568.40" cy="772.50" r="7.40" fill="#0000ff"/>
<circle cx="1582.60" cy="757.60" r="7.40" fill="#0000ff"/>
<circle cx="1607.20" cy="757.60" r="7.40" fill="#0000ff"/>
<text x="1438.50" y="589.50" font-family="'DejaVu Sans', sans-serif" font-size="27" font-weight="normal" text-anchor="middle" fill="#000" >RC=-0.31</text>
<text x="1438.50" y="1011.90" font-family="'DejaVu Sans', sans-serif" font-size="27" font-weight="normal" text-anchor="middle" fill="#000" >Fault Misalignment</text>
<text x="0" y="0" font-family="'DejaVu Sans', sans-serif" font-size="27" text-anchor="middle" transform="translate(1219.40,777.25) rotate(-90)">Creep Rate (mm/yr)</text>
</svg></body></html>
